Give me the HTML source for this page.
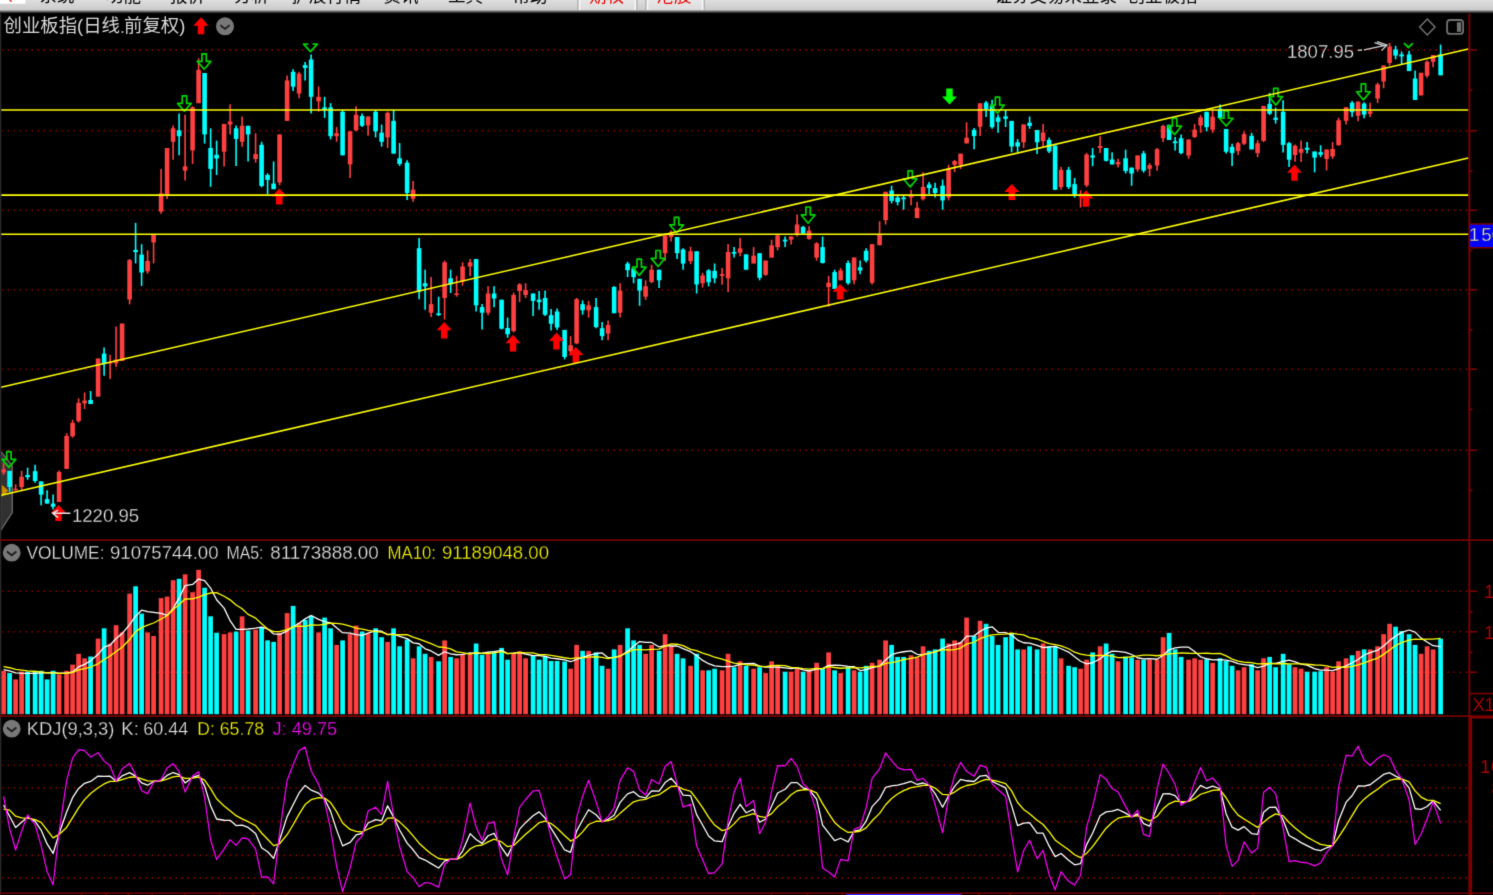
<!DOCTYPE html>
<html><head><meta charset="utf-8"><title>chart</title>
<style>html,body{margin:0;padding:0;background:#000;overflow:hidden}body{width:1493px;height:895px;font-family:"Liberation Sans",sans-serif}svg{display:block}</style>
</head><body><svg width="1493" height="895" viewBox="0 0 1493 895"><defs><linearGradient id="mb" x1="0" y1="0" x2="0" y2="1"><stop offset="0" stop-color="#dedede"/><stop offset="1" stop-color="#cbcbcb"/></linearGradient><linearGradient id="mb2" x1="0" y1="0" x2="0" y2="1"><stop offset="0" stop-color="#c4c4c4"/><stop offset="0.5" stop-color="#585858"/><stop offset="1" stop-color="#000"/></linearGradient><linearGradient id="tb" x1="0" y1="0" x2="0" y2="1"><stop offset="0" stop-color="#e7e7e7"/><stop offset="1" stop-color="#dcdcdc"/></linearGradient><clipPath id="mbclip"><rect x="0" y="0" width="1493" height="10"/></clipPath><filter id="soft" x="0" y="0" width="1493" height="895" filterUnits="userSpaceOnUse" color-interpolation-filters="sRGB"><feConvolveMatrix order="3" kernelMatrix="0.0144 0.0912 0.0144 0.0912 0.5776 0.0912 0.0144 0.0912 0.0144" edgeMode="duplicate" preserveAlpha="true"/></filter></defs><g filter="url(#soft)"><rect x="0" y="0" width="1493" height="895" fill="#000"/>
<line x1="2.2" y1="49.85" x2="1467.3" y2="49.85" stroke="#820000" stroke-width="1.6" stroke-dasharray="1.6 4.4" stroke-dashoffset="0.8"/>
<line x1="2.2" y1="130.75" x2="1467.3" y2="130.75" stroke="#820000" stroke-width="1.6" stroke-dasharray="1.6 4.4" stroke-dashoffset="0.8"/>
<line x1="2.2" y1="210.3" x2="1467.3" y2="210.3" stroke="#820000" stroke-width="1.6" stroke-dasharray="1.6 4.4" stroke-dashoffset="0.8"/>
<line x1="2.2" y1="289.75" x2="1467.3" y2="289.75" stroke="#820000" stroke-width="1.6" stroke-dasharray="1.6 4.4" stroke-dashoffset="0.8"/>
<line x1="2.2" y1="369.2" x2="1467.3" y2="369.2" stroke="#820000" stroke-width="1.6" stroke-dasharray="1.6 4.4" stroke-dashoffset="0.8"/>
<line x1="2.2" y1="450.3" x2="1467.3" y2="450.3" stroke="#820000" stroke-width="1.6" stroke-dasharray="1.6 4.4" stroke-dashoffset="0.8"/>
<line x1="2.2" y1="591.2" x2="1467.3" y2="591.2" stroke="#820000" stroke-width="1.6" stroke-dasharray="1.6 4.4" stroke-dashoffset="0.8"/>
<line x1="2.2" y1="631.8" x2="1467.3" y2="631.8" stroke="#820000" stroke-width="1.6" stroke-dasharray="1.6 4.4" stroke-dashoffset="0.8"/>
<line x1="2.2" y1="672.2" x2="1467.3" y2="672.2" stroke="#820000" stroke-width="1.6" stroke-dasharray="1.6 4.4" stroke-dashoffset="0.8"/>
<line x1="2.2" y1="765.3" x2="1467.3" y2="765.3" stroke="#820000" stroke-width="1.6" stroke-dasharray="1.6 4.4" stroke-dashoffset="0.8"/>
<line x1="2.2" y1="787.82" x2="1467.3" y2="787.82" stroke="#820000" stroke-width="1.6" stroke-dasharray="1.6 4.4" stroke-dashoffset="0.8"/>
<line x1="2.2" y1="821.6" x2="1467.3" y2="821.6" stroke="#820000" stroke-width="1.6" stroke-dasharray="1.6 4.4" stroke-dashoffset="0.8"/>
<line x1="2.2" y1="855.38" x2="1467.3" y2="855.38" stroke="#820000" stroke-width="1.6" stroke-dasharray="1.6 4.4" stroke-dashoffset="0.8"/>
<line x1="2.2" y1="877.9" x2="1467.3" y2="877.9" stroke="#820000" stroke-width="1.6" stroke-dasharray="1.6 4.4" stroke-dashoffset="0.8"/>
<polygon points="0.6,451.2 12.3,465.7 12.3,512.6 0.6,530.5" fill="#808080" fill-opacity="0.38" stroke="#888888" stroke-opacity="0.75" stroke-width="1.3"/>
<polygon points="1.7,484.7 8.4,490.6 1.7,497" fill="#d08a00"/>
<line x1="3.6" y1="463.2" x2="3.6" y2="474.8" stroke="#ff4040" stroke-width="1.6"/>
<rect x="1.3" y="469.3" width="4.6" height="3.3" fill="#ff4040"/>
<line x1="9.6" y1="470.9" x2="9.6" y2="491.8" stroke="#00ffff" stroke-width="1.6"/>
<rect x="7.3" y="470.9" width="4.6" height="16.1" fill="#00ffff"/>
<line x1="15.6" y1="484.3" x2="15.6" y2="490.6" stroke="#ff4040" stroke-width="1.6"/>
<rect x="13.3" y="488.8" width="4.6" height="1.5" fill="#ff4040"/>
<line x1="21.6" y1="470.8" x2="21.6" y2="489.8" stroke="#ff4040" stroke-width="1.6"/>
<rect x="19.3" y="476.8" width="4.6" height="10.3" fill="#ff4040"/>
<line x1="27.6" y1="467.7" x2="27.6" y2="479.8" stroke="#00ffff" stroke-width="1.6"/>
<rect x="25.3" y="475" width="4.6" height="2.2" fill="#00ffff"/>
<line x1="35.1" y1="464.8" x2="35.1" y2="482.8" stroke="#00ffff" stroke-width="1.6"/>
<rect x="32.8" y="471.2" width="4.6" height="9.8" fill="#00ffff"/>
<line x1="41.1" y1="481.4" x2="41.1" y2="505.3" stroke="#00ffff" stroke-width="1.6"/>
<rect x="38.8" y="481.4" width="4.6" height="13.2" fill="#00ffff"/>
<line x1="47.1" y1="490.2" x2="47.1" y2="503.6" stroke="#00ffff" stroke-width="1.6"/>
<rect x="44.8" y="499.1" width="4.6" height="4.5" fill="#00ffff"/>
<line x1="53.1" y1="494.6" x2="53.1" y2="509.5" stroke="#00ffff" stroke-width="1.6"/>
<rect x="50.8" y="503.6" width="4.6" height="3.2" fill="#00ffff"/>
<line x1="59.1" y1="470.5" x2="59.1" y2="502" stroke="#ff4040" stroke-width="1.6"/>
<rect x="56.8" y="472" width="4.6" height="30" fill="#ff4040"/>
<line x1="66.6" y1="433.3" x2="66.6" y2="468.9" stroke="#ff4040" stroke-width="1.6"/>
<rect x="64.3" y="436" width="4.6" height="32.9" fill="#ff4040"/>
<line x1="72.6" y1="419.7" x2="72.6" y2="437.6" stroke="#ff4040" stroke-width="1.6"/>
<rect x="70.3" y="422.9" width="4.6" height="13.4" fill="#ff4040"/>
<line x1="78.6" y1="398.4" x2="78.6" y2="422.6" stroke="#ff4040" stroke-width="1.6"/>
<rect x="76.3" y="402.9" width="4.6" height="18.2" fill="#ff4040"/>
<line x1="84.6" y1="392.5" x2="84.6" y2="409" stroke="#ff4040" stroke-width="1.6"/>
<rect x="82.3" y="400.5" width="4.6" height="2.8" fill="#ff4040"/>
<line x1="90.6" y1="391" x2="90.6" y2="404" stroke="#00ffff" stroke-width="1.6"/>
<rect x="88.3" y="400" width="4.6" height="4" fill="#00ffff"/>
<line x1="98.1" y1="358.5" x2="98.1" y2="396.6" stroke="#ff4040" stroke-width="1.6"/>
<rect x="95.8" y="358.5" width="4.6" height="38.1" fill="#ff4040"/>
<line x1="104.1" y1="347.5" x2="104.1" y2="375.7" stroke="#00ffff" stroke-width="1.6"/>
<rect x="101.8" y="353.6" width="4.6" height="10.6" fill="#00ffff"/>
<line x1="110.1" y1="354.8" x2="110.1" y2="378.9" stroke="#ff4040" stroke-width="1.6"/>
<rect x="107.8" y="362" width="4.6" height="1.5" fill="#ff4040"/>
<line x1="116.1" y1="326.6" x2="116.1" y2="367.1" stroke="#ff4040" stroke-width="1.6"/>
<rect x="113.8" y="359.7" width="4.6" height="3.7" fill="#ff4040"/>
<line x1="122.1" y1="323.6" x2="122.1" y2="361" stroke="#ff4040" stroke-width="1.6"/>
<rect x="119.8" y="323.6" width="4.6" height="37.4" fill="#ff4040"/>
<line x1="129.6" y1="259" x2="129.6" y2="304.4" stroke="#ff4040" stroke-width="1.6"/>
<rect x="127.3" y="260.2" width="4.6" height="39.3" fill="#ff4040"/>
<line x1="135.6" y1="222.9" x2="135.6" y2="263.4" stroke="#00ffff" stroke-width="1.6"/>
<rect x="133.3" y="249.9" width="4.6" height="2.2" fill="#00ffff"/>
<line x1="141.6" y1="244.2" x2="141.6" y2="286" stroke="#00ffff" stroke-width="1.6"/>
<rect x="139.3" y="254.6" width="4.6" height="17.9" fill="#00ffff"/>
<line x1="147.6" y1="250.4" x2="147.6" y2="273.7" stroke="#ff4040" stroke-width="1.6"/>
<rect x="145.3" y="261" width="4.6" height="10.3" fill="#ff4040"/>
<line x1="153.6" y1="235.1" x2="153.6" y2="263.4" stroke="#ff4040" stroke-width="1.6"/>
<rect x="151.3" y="235.1" width="4.6" height="7.3" fill="#ff4040"/>
<line x1="161.1" y1="168.9" x2="161.1" y2="213.8" stroke="#ff4040" stroke-width="1.6"/>
<rect x="158.8" y="193.4" width="4.6" height="18.1" fill="#ff4040"/>
<line x1="167.1" y1="148" x2="167.1" y2="199" stroke="#ff4040" stroke-width="1.6"/>
<rect x="164.8" y="148" width="4.6" height="46.7" fill="#ff4040"/>
<line x1="173.1" y1="125.4" x2="173.1" y2="159.8" stroke="#ff4040" stroke-width="1.6"/>
<rect x="170.8" y="128.3" width="4.6" height="13.5" fill="#ff4040"/>
<line x1="179.1" y1="113.6" x2="179.1" y2="155.3" stroke="#00ffff" stroke-width="1.6"/>
<rect x="176.8" y="130.3" width="4.6" height="5.9" fill="#00ffff"/>
<line x1="185.1" y1="114.8" x2="185.1" y2="180.4" stroke="#ff4040" stroke-width="1.6"/>
<rect x="182.8" y="166.4" width="4.6" height="4.2" fill="#ff4040"/>
<line x1="192.6" y1="106.2" x2="192.6" y2="163.9" stroke="#ff4040" stroke-width="1.6"/>
<rect x="190.3" y="107.4" width="4.6" height="43" fill="#ff4040"/>
<line x1="198.6" y1="58.3" x2="198.6" y2="103.2" stroke="#ff4040" stroke-width="1.6"/>
<rect x="196.3" y="69.8" width="4.6" height="33.4" fill="#ff4040"/>
<line x1="204.6" y1="73" x2="204.6" y2="143.5" stroke="#00ffff" stroke-width="1.6"/>
<rect x="202.3" y="73" width="4.6" height="61.4" fill="#00ffff"/>
<line x1="210.6" y1="128.3" x2="210.6" y2="186.8" stroke="#00ffff" stroke-width="1.6"/>
<rect x="208.3" y="148" width="4.6" height="20.9" fill="#00ffff"/>
<line x1="216.6" y1="140.6" x2="216.6" y2="175" stroke="#00ffff" stroke-width="1.6"/>
<rect x="214.3" y="154.8" width="4.6" height="3.7" fill="#00ffff"/>
<line x1="224.1" y1="123.9" x2="224.1" y2="166.4" stroke="#ff4040" stroke-width="1.6"/>
<rect x="221.8" y="123.9" width="4.6" height="27.8" fill="#ff4040"/>
<line x1="230.1" y1="104.2" x2="230.1" y2="134.4" stroke="#ff4040" stroke-width="1.6"/>
<rect x="227.8" y="121.4" width="4.6" height="3.2" fill="#ff4040"/>
<line x1="236.1" y1="125.4" x2="236.1" y2="165.9" stroke="#00ffff" stroke-width="1.6"/>
<rect x="233.8" y="128.3" width="4.6" height="10.6" fill="#00ffff"/>
<line x1="242.1" y1="116.5" x2="242.1" y2="146.7" stroke="#ff4040" stroke-width="1.6"/>
<rect x="239.8" y="125.8" width="4.6" height="16" fill="#ff4040"/>
<line x1="248.1" y1="125.8" x2="248.1" y2="161.5" stroke="#00ffff" stroke-width="1.6"/>
<rect x="245.8" y="125.8" width="4.6" height="8.6" fill="#00ffff"/>
<line x1="255.6" y1="133.2" x2="255.6" y2="162.7" stroke="#ff4040" stroke-width="1.6"/>
<rect x="253.3" y="154.1" width="4.6" height="4.9" fill="#ff4040"/>
<line x1="261.6" y1="141.8" x2="261.6" y2="187.3" stroke="#00ffff" stroke-width="1.6"/>
<rect x="259.3" y="144.8" width="4.6" height="41.2" fill="#00ffff"/>
<line x1="267.6" y1="173.3" x2="267.6" y2="194.2" stroke="#00ffff" stroke-width="1.6"/>
<rect x="265.3" y="175" width="4.6" height="4.9" fill="#00ffff"/>
<line x1="273.6" y1="161.5" x2="273.6" y2="189.2" stroke="#00ffff" stroke-width="1.6"/>
<rect x="271.3" y="183.6" width="4.6" height="5.6" fill="#00ffff"/>
<line x1="279.6" y1="134.4" x2="279.6" y2="185.3" stroke="#ff4040" stroke-width="1.6"/>
<rect x="277.3" y="134.4" width="4.6" height="48" fill="#ff4040"/>
<line x1="287.1" y1="75.5" x2="287.1" y2="120.9" stroke="#ff4040" stroke-width="1.6"/>
<rect x="284.8" y="80.4" width="4.6" height="40.5" fill="#ff4040"/>
<line x1="293.1" y1="69.3" x2="293.1" y2="90.9" stroke="#00ffff" stroke-width="1.6"/>
<rect x="290.8" y="71.8" width="4.6" height="14.9" fill="#00ffff"/>
<line x1="299.1" y1="71.8" x2="299.1" y2="98.3" stroke="#ff4040" stroke-width="1.6"/>
<rect x="296.8" y="73.7" width="4.6" height="19.9" fill="#ff4040"/>
<line x1="305.1" y1="62" x2="305.1" y2="80.4" stroke="#00ffff" stroke-width="1.6"/>
<rect x="302.8" y="65.1" width="4.6" height="2.9" fill="#00ffff"/>
<line x1="311.1" y1="54.6" x2="311.1" y2="113.6" stroke="#00ffff" stroke-width="1.6"/>
<rect x="308.8" y="59.5" width="4.6" height="37.3" fill="#00ffff"/>
<line x1="318.6" y1="86.5" x2="318.6" y2="111.6" stroke="#ff4040" stroke-width="1.6"/>
<rect x="316.3" y="96.8" width="4.6" height="4.5" fill="#ff4040"/>
<line x1="324.6" y1="96.8" x2="324.6" y2="118" stroke="#00ffff" stroke-width="1.6"/>
<rect x="322.3" y="107.4" width="4.6" height="2.5" fill="#00ffff"/>
<line x1="330.6" y1="103.2" x2="330.6" y2="139.4" stroke="#00ffff" stroke-width="1.6"/>
<rect x="328.3" y="107.4" width="4.6" height="28.8" fill="#00ffff"/>
<line x1="336.6" y1="127.1" x2="336.6" y2="141.8" stroke="#ff4040" stroke-width="1.6"/>
<rect x="334.3" y="133.2" width="4.6" height="3" fill="#ff4040"/>
<line x1="342.6" y1="109.9" x2="342.6" y2="155.3" stroke="#00ffff" stroke-width="1.6"/>
<rect x="340.3" y="111.8" width="4.6" height="43.5" fill="#00ffff"/>
<line x1="350.1" y1="131.3" x2="350.1" y2="178" stroke="#ff4040" stroke-width="1.6"/>
<rect x="347.8" y="131.3" width="4.6" height="33.1" fill="#ff4040"/>
<line x1="356.1" y1="106.2" x2="356.1" y2="131.3" stroke="#ff4040" stroke-width="1.6"/>
<rect x="353.8" y="114.8" width="4.6" height="15.5" fill="#ff4040"/>
<line x1="362.1" y1="113.6" x2="362.1" y2="127" stroke="#00ffff" stroke-width="1.6"/>
<rect x="359.8" y="116" width="4.6" height="9.8" fill="#00ffff"/>
<line x1="368.1" y1="116.5" x2="368.1" y2="135.7" stroke="#ff4040" stroke-width="1.6"/>
<rect x="365.8" y="116.5" width="4.6" height="8.9" fill="#ff4040"/>
<line x1="375.6" y1="109.9" x2="375.6" y2="137.4" stroke="#00ffff" stroke-width="1.6"/>
<rect x="373.3" y="111.8" width="4.6" height="19.5" fill="#00ffff"/>
<line x1="381.6" y1="124.6" x2="381.6" y2="146.7" stroke="#00ffff" stroke-width="1.6"/>
<rect x="379.3" y="132.7" width="4.6" height="9.1" fill="#00ffff"/>
<line x1="387.6" y1="111.6" x2="387.6" y2="148" stroke="#ff4040" stroke-width="1.6"/>
<rect x="385.3" y="112.8" width="4.6" height="24.6" fill="#ff4040"/>
<line x1="393.6" y1="109.9" x2="393.6" y2="153.6" stroke="#00ffff" stroke-width="1.6"/>
<rect x="391.3" y="120.9" width="4.6" height="32.7" fill="#00ffff"/>
<line x1="399.6" y1="143" x2="399.6" y2="165.9" stroke="#00ffff" stroke-width="1.6"/>
<rect x="397.3" y="158.3" width="4.6" height="5.6" fill="#00ffff"/>
<line x1="407.1" y1="160.3" x2="407.1" y2="200" stroke="#00ffff" stroke-width="1.6"/>
<rect x="404.8" y="162.7" width="4.6" height="30.3" fill="#00ffff"/>
<line x1="413.1" y1="181.1" x2="413.1" y2="201.8" stroke="#ff4040" stroke-width="1.6"/>
<rect x="410.8" y="189.7" width="4.6" height="9.1" fill="#ff4040"/>
<line x1="419.1" y1="238.1" x2="419.1" y2="299.2" stroke="#00ffff" stroke-width="1.6"/>
<rect x="416.8" y="248.2" width="4.6" height="43.6" fill="#00ffff"/>
<line x1="425.1" y1="269.7" x2="425.1" y2="309.8" stroke="#00ffff" stroke-width="1.6"/>
<rect x="422.8" y="283.2" width="4.6" height="3.2" fill="#00ffff"/>
<line x1="431.1" y1="277.1" x2="431.1" y2="317.1" stroke="#ff4040" stroke-width="1.6"/>
<rect x="428.8" y="304.1" width="4.6" height="8.6" fill="#ff4040"/>
<line x1="438.6" y1="296.7" x2="438.6" y2="315.9" stroke="#00ffff" stroke-width="1.6"/>
<rect x="436.3" y="313.4" width="4.6" height="1.8" fill="#00ffff"/>
<line x1="444.6" y1="260.6" x2="444.6" y2="319.6" stroke="#ff4040" stroke-width="1.6"/>
<rect x="442.3" y="262.3" width="4.6" height="35.7" fill="#ff4040"/>
<line x1="450.6" y1="269.7" x2="450.6" y2="293" stroke="#00ffff" stroke-width="1.6"/>
<rect x="448.3" y="278.3" width="4.6" height="6.1" fill="#00ffff"/>
<line x1="456.6" y1="275.8" x2="456.6" y2="296.7" stroke="#ff4040" stroke-width="1.6"/>
<rect x="454.3" y="293.5" width="4.6" height="1.5" fill="#ff4040"/>
<line x1="462.6" y1="262.3" x2="462.6" y2="285.7" stroke="#ff4040" stroke-width="1.6"/>
<rect x="460.3" y="266.5" width="4.6" height="15" fill="#ff4040"/>
<line x1="470.1" y1="259.1" x2="470.1" y2="276.3" stroke="#ff4040" stroke-width="1.6"/>
<rect x="467.8" y="262.3" width="4.6" height="4.2" fill="#ff4040"/>
<line x1="476.1" y1="259.1" x2="476.1" y2="311.5" stroke="#00ffff" stroke-width="1.6"/>
<rect x="473.8" y="259.1" width="4.6" height="46.2" fill="#00ffff"/>
<line x1="482.1" y1="304.1" x2="482.1" y2="329.4" stroke="#00ffff" stroke-width="1.6"/>
<rect x="479.8" y="307.1" width="4.6" height="5.6" fill="#00ffff"/>
<line x1="488.1" y1="286.2" x2="488.1" y2="315.2" stroke="#ff4040" stroke-width="1.6"/>
<rect x="485.8" y="293.5" width="4.6" height="19.2" fill="#ff4040"/>
<line x1="494.1" y1="286.2" x2="494.1" y2="307.3" stroke="#00ffff" stroke-width="1.6"/>
<rect x="491.8" y="293.5" width="4.6" height="5" fill="#00ffff"/>
<line x1="501.6" y1="299.7" x2="501.6" y2="329.5" stroke="#00ffff" stroke-width="1.6"/>
<rect x="499.3" y="299.7" width="4.6" height="29" fill="#00ffff"/>
<line x1="507.6" y1="317.6" x2="507.6" y2="337.8" stroke="#00ffff" stroke-width="1.6"/>
<rect x="505.3" y="328" width="4.6" height="6.3" fill="#00ffff"/>
<line x1="513.6" y1="292.6" x2="513.6" y2="332.4" stroke="#ff4040" stroke-width="1.6"/>
<rect x="511.3" y="295" width="4.6" height="36.1" fill="#ff4040"/>
<line x1="519.6" y1="283.2" x2="519.6" y2="302.1" stroke="#ff4040" stroke-width="1.6"/>
<rect x="517.3" y="284.4" width="4.6" height="6.7" fill="#ff4040"/>
<line x1="525.6" y1="283.2" x2="525.6" y2="298" stroke="#ff4040" stroke-width="1.6"/>
<rect x="523.3" y="290.1" width="4.6" height="4.9" fill="#ff4040"/>
<line x1="533.1" y1="293.5" x2="533.1" y2="315.9" stroke="#00ffff" stroke-width="1.6"/>
<rect x="530.8" y="293.5" width="4.6" height="7.4" fill="#00ffff"/>
<line x1="539.1" y1="291.1" x2="539.1" y2="309.8" stroke="#00ffff" stroke-width="1.6"/>
<rect x="536.8" y="299.7" width="4.6" height="2.4" fill="#00ffff"/>
<line x1="545.1" y1="290.6" x2="545.1" y2="315.9" stroke="#00ffff" stroke-width="1.6"/>
<rect x="542.8" y="298" width="4.6" height="16.7" fill="#00ffff"/>
<line x1="551.1" y1="309" x2="551.1" y2="330.4" stroke="#00ffff" stroke-width="1.6"/>
<rect x="548.8" y="315.2" width="4.6" height="8.6" fill="#00ffff"/>
<line x1="557.1" y1="308.5" x2="557.1" y2="329.9" stroke="#00ffff" stroke-width="1.6"/>
<rect x="554.8" y="311.5" width="4.6" height="16" fill="#00ffff"/>
<line x1="564.6" y1="329.9" x2="564.6" y2="359.4" stroke="#00ffff" stroke-width="1.6"/>
<rect x="562.3" y="329.9" width="4.6" height="27.1" fill="#00ffff"/>
<line x1="570.6" y1="336.1" x2="570.6" y2="355.7" stroke="#ff4040" stroke-width="1.6"/>
<rect x="568.3" y="345.2" width="4.6" height="6.1" fill="#ff4040"/>
<line x1="576.6" y1="298" x2="576.6" y2="344.2" stroke="#ff4040" stroke-width="1.6"/>
<rect x="574.3" y="299.2" width="4.6" height="44.2" fill="#ff4040"/>
<line x1="582.6" y1="300.4" x2="582.6" y2="314.7" stroke="#00ffff" stroke-width="1.6"/>
<rect x="580.3" y="304.1" width="4.6" height="6.2" fill="#00ffff"/>
<line x1="588.6" y1="300.9" x2="588.6" y2="317.6" stroke="#ff4040" stroke-width="1.6"/>
<rect x="586.3" y="305.3" width="4.6" height="5" fill="#ff4040"/>
<line x1="596.1" y1="298" x2="596.1" y2="328.2" stroke="#00ffff" stroke-width="1.6"/>
<rect x="593.8" y="307.1" width="4.6" height="19.9" fill="#00ffff"/>
<line x1="602.1" y1="322.1" x2="602.1" y2="340.2" stroke="#00ffff" stroke-width="1.6"/>
<rect x="599.8" y="328.2" width="4.6" height="7.9" fill="#00ffff"/>
<line x1="608.1" y1="320.6" x2="608.1" y2="340.2" stroke="#ff4040" stroke-width="1.6"/>
<rect x="605.8" y="325" width="4.6" height="8.6" fill="#ff4040"/>
<line x1="614.1" y1="286.2" x2="614.1" y2="313.2" stroke="#00ffff" stroke-width="1.6"/>
<rect x="611.8" y="286.9" width="4.6" height="26.3" fill="#00ffff"/>
<line x1="620.1" y1="283.2" x2="620.1" y2="317.6" stroke="#ff4040" stroke-width="1.6"/>
<rect x="617.8" y="290.6" width="4.6" height="22.1" fill="#ff4040"/>
<line x1="627.6" y1="261.8" x2="627.6" y2="277.1" stroke="#00ffff" stroke-width="1.6"/>
<rect x="625.3" y="263.6" width="4.6" height="6.6" fill="#00ffff"/>
<line x1="633.6" y1="267.2" x2="633.6" y2="283.2" stroke="#00ffff" stroke-width="1.6"/>
<rect x="631.3" y="268.5" width="4.6" height="8.6" fill="#00ffff"/>
<line x1="639.6" y1="278.8" x2="639.6" y2="305.8" stroke="#00ffff" stroke-width="1.6"/>
<rect x="637.3" y="278.8" width="4.6" height="11.8" fill="#00ffff"/>
<line x1="645.6" y1="280.3" x2="645.6" y2="299.9" stroke="#ff4040" stroke-width="1.6"/>
<rect x="643.3" y="286.2" width="4.6" height="10.5" fill="#ff4040"/>
<line x1="651.6" y1="264.8" x2="651.6" y2="283.2" stroke="#ff4040" stroke-width="1.6"/>
<rect x="649.3" y="269.7" width="4.6" height="12.3" fill="#ff4040"/>
<line x1="659.1" y1="269.7" x2="659.1" y2="288.1" stroke="#00ffff" stroke-width="1.6"/>
<rect x="656.8" y="269.7" width="4.6" height="10.6" fill="#00ffff"/>
<line x1="665.1" y1="235.3" x2="665.1" y2="261.1" stroke="#ff4040" stroke-width="1.6"/>
<rect x="662.8" y="235.3" width="4.6" height="17.9" fill="#ff4040"/>
<line x1="671.1" y1="230.4" x2="671.1" y2="241.4" stroke="#ff4040" stroke-width="1.6"/>
<rect x="668.8" y="233.6" width="4.6" height="3.4" fill="#ff4040"/>
<line x1="677.1" y1="237" x2="677.1" y2="259.1" stroke="#00ffff" stroke-width="1.6"/>
<rect x="674.8" y="237" width="4.6" height="16.2" fill="#00ffff"/>
<line x1="683.1" y1="248.3" x2="683.1" y2="269.7" stroke="#00ffff" stroke-width="1.6"/>
<rect x="680.8" y="249.5" width="4.6" height="14.1" fill="#00ffff"/>
<line x1="690.6" y1="246.8" x2="690.6" y2="264.1" stroke="#ff4040" stroke-width="1.6"/>
<rect x="688.3" y="251.3" width="4.6" height="9.8" fill="#ff4040"/>
<line x1="696.6" y1="251.3" x2="696.6" y2="293.5" stroke="#00ffff" stroke-width="1.6"/>
<rect x="694.3" y="251.3" width="4.6" height="33.1" fill="#00ffff"/>
<line x1="702.6" y1="272.9" x2="702.6" y2="287.6" stroke="#ff4040" stroke-width="1.6"/>
<rect x="700.3" y="275.5" width="4.6" height="7.7" fill="#ff4040"/>
<line x1="708.6" y1="269.2" x2="708.6" y2="286.4" stroke="#00ffff" stroke-width="1.6"/>
<rect x="706.3" y="270.4" width="4.6" height="11.9" fill="#00ffff"/>
<line x1="714.6" y1="263.5" x2="714.6" y2="283.2" stroke="#00ffff" stroke-width="1.6"/>
<rect x="712.3" y="270.9" width="4.6" height="7.4" fill="#00ffff"/>
<line x1="722.1" y1="268" x2="722.1" y2="284.7" stroke="#ff4040" stroke-width="1.6"/>
<rect x="719.8" y="274.1" width="4.6" height="1.7" fill="#ff4040"/>
<line x1="728.1" y1="243.9" x2="728.1" y2="292" stroke="#ff4040" stroke-width="1.6"/>
<rect x="725.8" y="252" width="4.6" height="26.3" fill="#ff4040"/>
<line x1="734.1" y1="247.1" x2="734.1" y2="257.6" stroke="#00ffff" stroke-width="1.6"/>
<rect x="731.8" y="252" width="4.6" height="1.7" fill="#00ffff"/>
<line x1="740.1" y1="238" x2="740.1" y2="256.2" stroke="#ff4040" stroke-width="1.6"/>
<rect x="737.8" y="248.3" width="4.6" height="4.4" fill="#ff4040"/>
<line x1="746.1" y1="254.4" x2="746.1" y2="269.7" stroke="#00ffff" stroke-width="1.6"/>
<rect x="743.8" y="254.4" width="4.6" height="15.3" fill="#00ffff"/>
<line x1="753.6" y1="247.1" x2="753.6" y2="263.5" stroke="#ff4040" stroke-width="1.6"/>
<rect x="751.3" y="255.7" width="4.6" height="7.8" fill="#ff4040"/>
<line x1="759.6" y1="253.2" x2="759.6" y2="280.3" stroke="#00ffff" stroke-width="1.6"/>
<rect x="757.3" y="253.2" width="4.6" height="24.6" fill="#00ffff"/>
<line x1="765.6" y1="260.6" x2="765.6" y2="275.8" stroke="#ff4040" stroke-width="1.6"/>
<rect x="763.3" y="260.6" width="4.6" height="14.2" fill="#ff4040"/>
<line x1="771.6" y1="239.7" x2="771.6" y2="257.6" stroke="#ff4040" stroke-width="1.6"/>
<rect x="769.3" y="245.4" width="4.6" height="12.2" fill="#ff4040"/>
<line x1="777.6" y1="234.8" x2="777.6" y2="250.3" stroke="#ff4040" stroke-width="1.6"/>
<rect x="775.3" y="235.5" width="4.6" height="11.6" fill="#ff4040"/>
<line x1="785.1" y1="236.5" x2="785.1" y2="247.1" stroke="#00ffff" stroke-width="1.6"/>
<rect x="782.8" y="239.7" width="4.6" height="1.7" fill="#00ffff"/>
<line x1="791.1" y1="236.5" x2="791.1" y2="244.6" stroke="#ff4040" stroke-width="1.6"/>
<rect x="788.8" y="236.5" width="4.6" height="3.2" fill="#ff4040"/>
<line x1="797.1" y1="214.4" x2="797.1" y2="236.5" stroke="#ff4040" stroke-width="1.6"/>
<rect x="794.8" y="224.5" width="4.6" height="10.3" fill="#ff4040"/>
<line x1="803.1" y1="225.7" x2="803.1" y2="233.6" stroke="#00ffff" stroke-width="1.6"/>
<rect x="800.8" y="226.9" width="4.6" height="6.7" fill="#00ffff"/>
<line x1="809.1" y1="226.2" x2="809.1" y2="239.7" stroke="#ff4040" stroke-width="1.6"/>
<rect x="806.8" y="230.6" width="4.6" height="8.4" fill="#ff4040"/>
<line x1="816.6" y1="242.2" x2="816.6" y2="260.6" stroke="#ff4040" stroke-width="1.6"/>
<rect x="814.3" y="243.4" width="4.6" height="14.2" fill="#ff4040"/>
<line x1="822.6" y1="236.5" x2="822.6" y2="263.5" stroke="#00ffff" stroke-width="1.6"/>
<rect x="820.3" y="247.1" width="4.6" height="15.9" fill="#00ffff"/>
<line x1="828.6" y1="275.8" x2="828.6" y2="306.8" stroke="#ff4040" stroke-width="1.6"/>
<rect x="826.3" y="282.7" width="4.6" height="4.4" fill="#ff4040"/>
<line x1="834.6" y1="269.7" x2="834.6" y2="288.9" stroke="#00ffff" stroke-width="1.6"/>
<rect x="832.3" y="272.1" width="4.6" height="16.8" fill="#00ffff"/>
<line x1="840.6" y1="268" x2="840.6" y2="280.3" stroke="#ff4040" stroke-width="1.6"/>
<rect x="838.3" y="270.4" width="4.6" height="9.9" fill="#ff4040"/>
<line x1="848.1" y1="260.6" x2="848.1" y2="284.7" stroke="#00ffff" stroke-width="1.6"/>
<rect x="845.8" y="263" width="4.6" height="20.2" fill="#00ffff"/>
<line x1="854.1" y1="257.5" x2="854.1" y2="284.3" stroke="#ff4040" stroke-width="1.6"/>
<rect x="851.8" y="257.5" width="4.6" height="22.8" fill="#ff4040"/>
<line x1="860.1" y1="260.6" x2="860.1" y2="274.2" stroke="#00ffff" stroke-width="1.6"/>
<rect x="857.8" y="267.3" width="4.6" height="3.2" fill="#00ffff"/>
<line x1="866.1" y1="248.3" x2="866.1" y2="262.4" stroke="#00ffff" stroke-width="1.6"/>
<rect x="863.8" y="250.8" width="4.6" height="9.8" fill="#00ffff"/>
<line x1="872.1" y1="244.2" x2="872.1" y2="284.5" stroke="#ff4040" stroke-width="1.6"/>
<rect x="869.8" y="244.2" width="4.6" height="38.6" fill="#ff4040"/>
<line x1="879.6" y1="221.3" x2="879.6" y2="245.2" stroke="#ff4040" stroke-width="1.6"/>
<rect x="877.3" y="234.3" width="4.6" height="10.9" fill="#ff4040"/>
<line x1="885.6" y1="191.8" x2="885.6" y2="224.5" stroke="#ff4040" stroke-width="1.6"/>
<rect x="883.3" y="191.8" width="4.6" height="28.3" fill="#ff4040"/>
<line x1="891.6" y1="185.7" x2="891.6" y2="203.4" stroke="#00ffff" stroke-width="1.6"/>
<rect x="889.3" y="190.6" width="4.6" height="10.3" fill="#00ffff"/>
<line x1="897.6" y1="195.5" x2="897.6" y2="205.3" stroke="#00ffff" stroke-width="1.6"/>
<rect x="895.3" y="197.5" width="4.6" height="4.6" fill="#00ffff"/>
<line x1="903.6" y1="195.5" x2="903.6" y2="209.8" stroke="#00ffff" stroke-width="1.6"/>
<rect x="901.3" y="197.5" width="4.6" height="1.7" fill="#00ffff"/>
<line x1="911.1" y1="190.1" x2="911.1" y2="205.3" stroke="#ff4040" stroke-width="1.6"/>
<rect x="908.8" y="196" width="4.6" height="1.5" fill="#ff4040"/>
<line x1="917.1" y1="201.7" x2="917.1" y2="218.1" stroke="#ff4040" stroke-width="1.6"/>
<rect x="914.8" y="207.8" width="4.6" height="10.3" fill="#ff4040"/>
<line x1="923.1" y1="172.2" x2="923.1" y2="200.4" stroke="#ff4040" stroke-width="1.6"/>
<rect x="920.8" y="186.9" width="4.6" height="12.3" fill="#ff4040"/>
<line x1="929.1" y1="182" x2="929.1" y2="194.3" stroke="#00ffff" stroke-width="1.6"/>
<rect x="926.8" y="184.5" width="4.6" height="3.6" fill="#00ffff"/>
<line x1="935.1" y1="182.7" x2="935.1" y2="197.5" stroke="#00ffff" stroke-width="1.6"/>
<rect x="932.8" y="188.1" width="4.6" height="4.9" fill="#00ffff"/>
<line x1="942.6" y1="179.5" x2="942.6" y2="209.8" stroke="#00ffff" stroke-width="1.6"/>
<rect x="940.3" y="185.7" width="4.6" height="14.7" fill="#00ffff"/>
<line x1="948.6" y1="164.8" x2="948.6" y2="200.4" stroke="#ff4040" stroke-width="1.6"/>
<rect x="946.3" y="168.5" width="4.6" height="29" fill="#ff4040"/>
<line x1="954.6" y1="159.9" x2="954.6" y2="172.2" stroke="#ff4040" stroke-width="1.6"/>
<rect x="952.3" y="161.1" width="4.6" height="3.7" fill="#ff4040"/>
<line x1="960.6" y1="153.7" x2="960.6" y2="169" stroke="#ff4040" stroke-width="1.6"/>
<rect x="958.3" y="153.7" width="4.6" height="11.1" fill="#ff4040"/>
<line x1="966.6" y1="122.3" x2="966.6" y2="143.4" stroke="#ff4040" stroke-width="1.6"/>
<rect x="964.3" y="137.8" width="4.6" height="5.6" fill="#ff4040"/>
<line x1="974.1" y1="127.9" x2="974.1" y2="149.3" stroke="#00ffff" stroke-width="1.6"/>
<rect x="971.8" y="129.9" width="4.6" height="6.1" fill="#00ffff"/>
<line x1="980.1" y1="103.3" x2="980.1" y2="136" stroke="#ff4040" stroke-width="1.6"/>
<rect x="977.8" y="103.3" width="4.6" height="23.4" fill="#ff4040"/>
<line x1="986.1" y1="100.9" x2="986.1" y2="116.9" stroke="#00ffff" stroke-width="1.6"/>
<rect x="983.8" y="102.6" width="4.6" height="6.4" fill="#00ffff"/>
<line x1="992.1" y1="99.7" x2="992.1" y2="128.7" stroke="#00ffff" stroke-width="1.6"/>
<rect x="989.8" y="105.8" width="4.6" height="21.4" fill="#00ffff"/>
<line x1="998.1" y1="114.4" x2="998.1" y2="132.8" stroke="#00ffff" stroke-width="1.6"/>
<rect x="995.8" y="117.4" width="4.6" height="4.4" fill="#00ffff"/>
<line x1="1005.6" y1="110" x2="1005.6" y2="127" stroke="#00ffff" stroke-width="1.6"/>
<rect x="1003.3" y="116.4" width="4.6" height="2.4" fill="#00ffff"/>
<line x1="1011.6" y1="120.9" x2="1011.6" y2="152.2" stroke="#00ffff" stroke-width="1.6"/>
<rect x="1009.3" y="120.9" width="4.6" height="25.6" fill="#00ffff"/>
<line x1="1017.6" y1="139.1" x2="1017.6" y2="152.2" stroke="#00ffff" stroke-width="1.6"/>
<rect x="1015.3" y="142.3" width="4.6" height="4.2" fill="#00ffff"/>
<line x1="1023.6" y1="124.4" x2="1023.6" y2="148" stroke="#ff4040" stroke-width="1.6"/>
<rect x="1021.3" y="124.4" width="4.6" height="17.9" fill="#ff4040"/>
<line x1="1029.6" y1="116.5" x2="1029.6" y2="128.8" stroke="#00ffff" stroke-width="1.6"/>
<rect x="1027.3" y="122.7" width="4.6" height="3.2" fill="#00ffff"/>
<line x1="1037.1" y1="130" x2="1037.1" y2="153.9" stroke="#00ffff" stroke-width="1.6"/>
<rect x="1034.8" y="130" width="4.6" height="12.3" fill="#00ffff"/>
<line x1="1043.1" y1="123.9" x2="1043.1" y2="146.5" stroke="#ff4040" stroke-width="1.6"/>
<rect x="1040.8" y="132.5" width="4.6" height="8.6" fill="#ff4040"/>
<line x1="1049.1" y1="137.4" x2="1049.1" y2="152.9" stroke="#00ffff" stroke-width="1.6"/>
<rect x="1046.8" y="139.9" width="4.6" height="11.5" fill="#00ffff"/>
<line x1="1055.1" y1="145.5" x2="1055.1" y2="189.8" stroke="#00ffff" stroke-width="1.6"/>
<rect x="1052.8" y="145.5" width="4.6" height="44.3" fill="#00ffff"/>
<line x1="1061.1" y1="166.9" x2="1061.1" y2="189.8" stroke="#ff4040" stroke-width="1.6"/>
<rect x="1058.8" y="169.9" width="4.6" height="17.2" fill="#ff4040"/>
<line x1="1068.6" y1="166.9" x2="1068.6" y2="189" stroke="#00ffff" stroke-width="1.6"/>
<rect x="1066.3" y="169.9" width="4.6" height="17.2" fill="#00ffff"/>
<line x1="1074.6" y1="178" x2="1074.6" y2="197.6" stroke="#00ffff" stroke-width="1.6"/>
<rect x="1072.3" y="184.1" width="4.6" height="10.6" fill="#00ffff"/>
<line x1="1080.6" y1="190.3" x2="1080.6" y2="207.5" stroke="#ff4040" stroke-width="1.6"/>
<rect x="1078.3" y="193.9" width="4.6" height="2.5" fill="#ff4040"/>
<line x1="1086.6" y1="152.9" x2="1086.6" y2="187.1" stroke="#ff4040" stroke-width="1.6"/>
<rect x="1084.3" y="154.6" width="4.6" height="30.7" fill="#ff4040"/>
<line x1="1092.6" y1="148" x2="1092.6" y2="166.2" stroke="#00ffff" stroke-width="1.6"/>
<rect x="1090.3" y="155.4" width="4.6" height="2.2" fill="#00ffff"/>
<line x1="1100.1" y1="136.2" x2="1100.1" y2="152.9" stroke="#ff4040" stroke-width="1.6"/>
<rect x="1097.8" y="146" width="4.6" height="2" fill="#ff4040"/>
<line x1="1106.1" y1="148" x2="1106.1" y2="161.5" stroke="#00ffff" stroke-width="1.6"/>
<rect x="1103.8" y="148" width="4.6" height="12.8" fill="#00ffff"/>
<line x1="1112.1" y1="152.2" x2="1112.1" y2="164.4" stroke="#00ffff" stroke-width="1.6"/>
<rect x="1109.8" y="159.5" width="4.6" height="4.9" fill="#00ffff"/>
<line x1="1118.1" y1="158.8" x2="1118.1" y2="167.6" stroke="#ff4040" stroke-width="1.6"/>
<rect x="1115.8" y="162" width="4.6" height="2.4" fill="#ff4040"/>
<line x1="1125.6" y1="149.7" x2="1125.6" y2="173.5" stroke="#00ffff" stroke-width="1.6"/>
<rect x="1123.3" y="158.3" width="4.6" height="12.8" fill="#00ffff"/>
<line x1="1131.6" y1="167.6" x2="1131.6" y2="185.8" stroke="#00ffff" stroke-width="1.6"/>
<rect x="1129.3" y="167.6" width="4.6" height="5.9" fill="#00ffff"/>
<line x1="1137.6" y1="155.4" x2="1137.6" y2="171.8" stroke="#ff4040" stroke-width="1.6"/>
<rect x="1135.3" y="155.4" width="4.6" height="14" fill="#ff4040"/>
<line x1="1143.6" y1="150.9" x2="1143.6" y2="172.6" stroke="#00ffff" stroke-width="1.6"/>
<rect x="1141.3" y="153.4" width="4.6" height="17.2" fill="#00ffff"/>
<line x1="1149.6" y1="163.2" x2="1149.6" y2="176.3" stroke="#ff4040" stroke-width="1.6"/>
<rect x="1147.3" y="165.2" width="4.6" height="3.6" fill="#ff4040"/>
<line x1="1157.1" y1="148" x2="1157.1" y2="170.7" stroke="#ff4040" stroke-width="1.6"/>
<rect x="1154.8" y="149.2" width="4.6" height="16.3" fill="#ff4040"/>
<line x1="1163.1" y1="124.8" x2="1163.1" y2="142" stroke="#ff4040" stroke-width="1.6"/>
<rect x="1160.8" y="126" width="4.6" height="12.3" fill="#ff4040"/>
<line x1="1169.1" y1="124.8" x2="1169.1" y2="140" stroke="#00ffff" stroke-width="1.6"/>
<rect x="1166.8" y="124.8" width="4.6" height="15.2" fill="#00ffff"/>
<line x1="1175.1" y1="137.1" x2="1175.1" y2="150.6" stroke="#00ffff" stroke-width="1.6"/>
<rect x="1172.8" y="141.3" width="4.6" height="1.9" fill="#00ffff"/>
<line x1="1181.1" y1="134.6" x2="1181.1" y2="154.3" stroke="#00ffff" stroke-width="1.6"/>
<rect x="1178.8" y="138.3" width="4.6" height="14.8" fill="#00ffff"/>
<line x1="1188.6" y1="139.5" x2="1188.6" y2="158.7" stroke="#ff4040" stroke-width="1.6"/>
<rect x="1186.3" y="139.5" width="4.6" height="16" fill="#ff4040"/>
<line x1="1194.6" y1="124.1" x2="1194.6" y2="137.8" stroke="#ff4040" stroke-width="1.6"/>
<rect x="1192.3" y="129.7" width="4.6" height="7.4" fill="#ff4040"/>
<line x1="1200.6" y1="115" x2="1200.6" y2="132.9" stroke="#ff4040" stroke-width="1.6"/>
<rect x="1198.3" y="117.4" width="4.6" height="8.1" fill="#ff4040"/>
<line x1="1206.6" y1="111.8" x2="1206.6" y2="131.4" stroke="#00ffff" stroke-width="1.6"/>
<rect x="1204.3" y="111.8" width="4.6" height="15.4" fill="#00ffff"/>
<line x1="1212.6" y1="109.6" x2="1212.6" y2="132.9" stroke="#ff4040" stroke-width="1.6"/>
<rect x="1210.3" y="116.7" width="4.6" height="13" fill="#ff4040"/>
<line x1="1220.1" y1="104.4" x2="1220.1" y2="118.2" stroke="#00ffff" stroke-width="1.6"/>
<rect x="1217.8" y="108.8" width="4.6" height="9.4" fill="#00ffff"/>
<line x1="1226.1" y1="129" x2="1226.1" y2="153.5" stroke="#00ffff" stroke-width="1.6"/>
<rect x="1223.8" y="129" width="4.6" height="22.8" fill="#00ffff"/>
<line x1="1232.1" y1="143.7" x2="1232.1" y2="166.1" stroke="#00ffff" stroke-width="1.6"/>
<rect x="1229.8" y="146.9" width="4.6" height="6.2" fill="#00ffff"/>
<line x1="1238.1" y1="142" x2="1238.1" y2="155" stroke="#ff4040" stroke-width="1.6"/>
<rect x="1235.8" y="143.2" width="4.6" height="7.9" fill="#ff4040"/>
<line x1="1244.1" y1="131.4" x2="1244.1" y2="144.9" stroke="#ff4040" stroke-width="1.6"/>
<rect x="1241.8" y="134.1" width="4.6" height="9.6" fill="#ff4040"/>
<line x1="1251.6" y1="132.9" x2="1251.6" y2="149.4" stroke="#00ffff" stroke-width="1.6"/>
<rect x="1249.3" y="135.8" width="4.6" height="13.6" fill="#00ffff"/>
<line x1="1257.6" y1="140.3" x2="1257.6" y2="157.2" stroke="#ff4040" stroke-width="1.6"/>
<rect x="1255.3" y="143.2" width="4.6" height="9.9" fill="#ff4040"/>
<line x1="1263.6" y1="105.9" x2="1263.6" y2="142" stroke="#ff4040" stroke-width="1.6"/>
<rect x="1261.3" y="105.9" width="4.6" height="34.9" fill="#ff4040"/>
<line x1="1269.6" y1="92.8" x2="1269.6" y2="115" stroke="#00ffff" stroke-width="1.6"/>
<rect x="1267.3" y="103.9" width="4.6" height="9.8" fill="#00ffff"/>
<line x1="1275.6" y1="107.6" x2="1275.6" y2="123.6" stroke="#00ffff" stroke-width="1.6"/>
<rect x="1273.3" y="117.7" width="4.6" height="2.2" fill="#00ffff"/>
<line x1="1283.1" y1="100.2" x2="1283.1" y2="152.6" stroke="#00ffff" stroke-width="1.6"/>
<rect x="1280.8" y="111.8" width="4.6" height="33.1" fill="#00ffff"/>
<line x1="1289.1" y1="142" x2="1289.1" y2="167.1" stroke="#00ffff" stroke-width="1.6"/>
<rect x="1286.8" y="143.2" width="4.6" height="16.5" fill="#00ffff"/>
<line x1="1295.1" y1="144.4" x2="1295.1" y2="161.7" stroke="#ff4040" stroke-width="1.6"/>
<rect x="1292.8" y="145.7" width="4.6" height="9.3" fill="#ff4040"/>
<line x1="1301.1" y1="140.6" x2="1301.1" y2="162" stroke="#ff4040" stroke-width="1.6"/>
<rect x="1298.8" y="148.9" width="4.6" height="3.8" fill="#ff4040"/>
<line x1="1307.1" y1="142.1" x2="1307.1" y2="153.5" stroke="#00ffff" stroke-width="1.6"/>
<rect x="1304.8" y="147.8" width="4.6" height="2" fill="#00ffff"/>
<line x1="1314.6" y1="151.5" x2="1314.6" y2="172.4" stroke="#00ffff" stroke-width="1.6"/>
<rect x="1312.3" y="151.5" width="4.6" height="6.1" fill="#00ffff"/>
<line x1="1320.6" y1="145.3" x2="1320.6" y2="157.1" stroke="#00ffff" stroke-width="1.6"/>
<rect x="1318.3" y="152.2" width="4.6" height="2.5" fill="#00ffff"/>
<line x1="1326.6" y1="149.5" x2="1326.6" y2="170.4" stroke="#ff4040" stroke-width="1.6"/>
<rect x="1324.3" y="149.5" width="4.6" height="9.4" fill="#ff4040"/>
<line x1="1332.6" y1="142.1" x2="1332.6" y2="158.9" stroke="#ff4040" stroke-width="1.6"/>
<rect x="1330.3" y="149" width="4.6" height="7.4" fill="#ff4040"/>
<line x1="1338.6" y1="117.8" x2="1338.6" y2="145.3" stroke="#ff4040" stroke-width="1.6"/>
<rect x="1336.3" y="120.3" width="4.6" height="25" fill="#ff4040"/>
<line x1="1346.1" y1="107.2" x2="1346.1" y2="124.4" stroke="#ff4040" stroke-width="1.6"/>
<rect x="1343.8" y="107.2" width="4.6" height="13.6" fill="#ff4040"/>
<line x1="1352.1" y1="101.1" x2="1352.1" y2="117.1" stroke="#00ffff" stroke-width="1.6"/>
<rect x="1349.8" y="102.8" width="4.6" height="9.4" fill="#00ffff"/>
<line x1="1358.1" y1="101.6" x2="1358.1" y2="121.3" stroke="#ff4040" stroke-width="1.6"/>
<rect x="1355.8" y="101.6" width="4.6" height="14.2" fill="#ff4040"/>
<line x1="1364.1" y1="102.3" x2="1364.1" y2="118.3" stroke="#00ffff" stroke-width="1.6"/>
<rect x="1361.8" y="103.6" width="4.6" height="11" fill="#00ffff"/>
<line x1="1370.1" y1="102.8" x2="1370.1" y2="117.1" stroke="#ff4040" stroke-width="1.6"/>
<rect x="1367.8" y="111.4" width="4.6" height="2.5" fill="#ff4040"/>
<line x1="1377.6" y1="82.7" x2="1377.6" y2="103.1" stroke="#ff4040" stroke-width="1.6"/>
<rect x="1375.3" y="84.4" width="4.6" height="14.2" fill="#ff4040"/>
<line x1="1383.6" y1="65.5" x2="1383.6" y2="88.3" stroke="#ff4040" stroke-width="1.6"/>
<rect x="1381.3" y="65.5" width="4.6" height="15.9" fill="#ff4040"/>
<line x1="1389.6" y1="42.9" x2="1389.6" y2="65.5" stroke="#ff4040" stroke-width="1.6"/>
<rect x="1387.3" y="46.5" width="4.6" height="16.5" fill="#ff4040"/>
<line x1="1395.6" y1="45.8" x2="1395.6" y2="59.3" stroke="#00ffff" stroke-width="1.6"/>
<rect x="1393.3" y="49.5" width="4.6" height="6.1" fill="#00ffff"/>
<line x1="1401.6" y1="51.5" x2="1401.6" y2="64.7" stroke="#00ffff" stroke-width="1.6"/>
<rect x="1399.3" y="54.4" width="4.6" height="2" fill="#00ffff"/>
<line x1="1409.1" y1="50.7" x2="1409.1" y2="71.1" stroke="#00ffff" stroke-width="1.6"/>
<rect x="1406.8" y="54.4" width="4.6" height="16.7" fill="#00ffff"/>
<line x1="1415.1" y1="70.4" x2="1415.1" y2="99.9" stroke="#00ffff" stroke-width="1.6"/>
<rect x="1412.8" y="78.5" width="4.6" height="21.4" fill="#00ffff"/>
<line x1="1421.1" y1="72.8" x2="1421.1" y2="95.4" stroke="#ff4040" stroke-width="1.6"/>
<rect x="1418.8" y="72.8" width="4.6" height="22.6" fill="#ff4040"/>
<line x1="1427.1" y1="60.6" x2="1427.1" y2="77.8" stroke="#ff4040" stroke-width="1.6"/>
<rect x="1424.8" y="61.8" width="4.6" height="14" fill="#ff4040"/>
<line x1="1433.1" y1="55.1" x2="1433.1" y2="67.2" stroke="#ff4040" stroke-width="1.6"/>
<rect x="1430.8" y="55.1" width="4.6" height="6.7" fill="#ff4040"/>
<line x1="1440.6" y1="44.6" x2="1440.6" y2="75.3" stroke="#00ffff" stroke-width="1.6"/>
<rect x="1438.3" y="54.4" width="4.6" height="20.9" fill="#00ffff"/>
<polygon points="6.7,451.7 11.1,451.7 11.1,459.39 15.75,459.39 8.9,467.4 2.05,459.39 6.7,459.39" fill="none" stroke="#00d400" stroke-width="1.7" stroke-linejoin="round"/>
<polygon points="182.2,95.9 186.6,95.9 186.6,103.35 191.25,103.35 184.4,111.1 177.55,103.35 182.2,103.35" fill="none" stroke="#00d400" stroke-width="1.7" stroke-linejoin="round"/>
<polygon points="201.9,53.8 206.3,53.8 206.3,61.39 210.95,61.39 204.1,69.3 197.25,61.39 201.9,61.39" fill="none" stroke="#00d400" stroke-width="1.7" stroke-linejoin="round"/>
<polygon points="637,259.1 641.4,259.1 641.4,267.09 646.05,267.09 639.2,275.4 632.35,267.09 637,267.09" fill="none" stroke="#00d400" stroke-width="1.7" stroke-linejoin="round"/>
<polygon points="655.9,250.5 660.3,250.5 660.3,258.34 664.95,258.34 658.1,266.5 651.25,258.34 655.9,258.34" fill="none" stroke="#00d400" stroke-width="1.7" stroke-linejoin="round"/>
<polygon points="674.4,217.4 678.8,217.4 678.8,224.95 683.45,224.95 676.6,232.8 669.75,224.95 674.4,224.95" fill="none" stroke="#00d400" stroke-width="1.7" stroke-linejoin="round"/>
<polygon points="805.9,207 810.3,207 810.3,214.94 814.95,214.94 808.1,223.2 801.25,214.94 805.9,214.94" fill="none" stroke="#00d400" stroke-width="1.7" stroke-linejoin="round"/>
<polygon points="908,170.9 912.4,170.9 912.4,178.74 917.05,178.74 910.2,186.9 903.35,178.74 908,178.74" fill="none" stroke="#00d400" stroke-width="1.7" stroke-linejoin="round"/>
<polygon points="995.3,97.2 999.7,97.2 999.7,105.04 1004.35,105.04 997.5,113.2 990.65,105.04 995.3,105.04" fill="none" stroke="#00d400" stroke-width="1.7" stroke-linejoin="round"/>
<polygon points="1172.4,118.1 1176.8,118.1 1176.8,126.18 1181.45,126.18 1174.6,134.6 1167.75,126.18 1172.4,126.18" fill="none" stroke="#00d400" stroke-width="1.7" stroke-linejoin="round"/>
<polygon points="1224,110.8 1228.4,110.8 1228.4,118.25 1233.05,118.25 1226.2,126 1219.35,118.25 1224,118.25" fill="none" stroke="#00d400" stroke-width="1.7" stroke-linejoin="round"/>
<polygon points="1273.6,88.4 1278,88.4 1278,96.58 1282.65,96.58 1275.8,105.1 1268.95,96.58 1273.6,96.58" fill="none" stroke="#00d400" stroke-width="1.7" stroke-linejoin="round"/>
<polygon points="1361.2,83.9 1365.6,83.9 1365.6,91.74 1370.25,91.74 1363.4,99.9 1356.55,91.74 1361.2,91.74" fill="none" stroke="#00d400" stroke-width="1.7" stroke-linejoin="round"/>
<polygon points="946.25,88.6 952.75,88.6 952.75,96.6 957,96.6 949.5,104.6 942,96.6 946.25,96.6" fill="#00ff00"/>
<polygon points="58.5,505 66.1,513 61.75,513 61.75,521 55.25,521 55.25,513 50.9,513" fill="#ff0000"/>
<polygon points="279.3,188.5 286.9,196.5 282.55,196.5 282.55,204.5 276.05,204.5 276.05,196.5 271.7,196.5" fill="#ff0000"/>
<polygon points="444.2,322 451.8,330.25 447.45,330.25 447.45,338.5 440.95,338.5 440.95,330.25 436.6,330.25" fill="#ff0000"/>
<polygon points="513,334.8 520.6,343.15 516.25,343.15 516.25,351.5 509.75,351.5 509.75,343.15 505.4,343.15" fill="#ff0000"/>
<polygon points="556.5,332.4 564.1,341 559.75,341 559.75,349.6 553.25,349.6 553.25,341 548.9,341" fill="#ff0000"/>
<polygon points="575.8,347.1 583.4,355.1 579.05,355.1 579.05,363.1 572.55,363.1 572.55,355.1 568.2,355.1" fill="#ff0000"/>
<polygon points="840.1,283.9 847.7,291.65 843.35,291.65 843.35,299.4 836.85,299.4 836.85,291.65 832.5,291.65" fill="#ff0000"/>
<polygon points="1011.8,184.1 1019.4,192.1 1015.05,192.1 1015.05,200.1 1008.55,200.1 1008.55,192.1 1004.2,192.1" fill="#ff0000"/>
<polygon points="1086,190.3 1093.6,198.5 1089.25,198.5 1089.25,206.7 1082.75,206.7 1082.75,198.5 1078.4,198.5" fill="#ff0000"/>
<polygon points="1294.5,164.8 1302.1,172.8 1297.75,172.8 1297.75,180.8 1291.25,180.8 1291.25,172.8 1286.9,172.8" fill="#ff0000"/>
<path d="M308.25,44.2 L303.6,44.2 L310.45,51.6 L317.3,44.2 L312.65,44.2" fill="none" stroke="#00d400" stroke-width="1.8" stroke-linejoin="round"/>
<path d="M1404,43.1 L1408.4,47.5 L1412.8,43.1" fill="none" stroke="#00d400" stroke-width="1.8" stroke-linejoin="round"/>
<line x1="0" y1="109.9" x2="1468.3" y2="109.9" stroke="#ffff00" stroke-width="1.55"/>
<line x1="0" y1="195.1" x2="1468.3" y2="195.1" stroke="#ffff00" stroke-width="1.55"/>
<line x1="0" y1="234.3" x2="1468.3" y2="234.3" stroke="#ffff00" stroke-width="1.55"/>
<line x1="0" y1="387.6" x2="1468.3" y2="49.1" stroke="#ffff00" stroke-width="1.55"/>
<line x1="0" y1="495.5" x2="1468.3" y2="158.1" stroke="#ffff00" stroke-width="1.55"/>
<rect x="1.25" y="670.8" width="4.7" height="43.4" fill="#ff4040"/>
<rect x="7.25" y="673" width="4.7" height="41.2" fill="#00ffff"/>
<rect x="13.25" y="679.4" width="4.7" height="34.8" fill="#ff4040"/>
<rect x="19.25" y="671.7" width="4.7" height="42.5" fill="#ff4040"/>
<rect x="25.25" y="671.7" width="4.7" height="42.5" fill="#00ffff"/>
<rect x="32.75" y="670.8" width="4.7" height="43.4" fill="#00ffff"/>
<rect x="38.75" y="670.8" width="4.7" height="43.4" fill="#00ffff"/>
<rect x="44.75" y="679.4" width="4.7" height="34.8" fill="#00ffff"/>
<rect x="50.75" y="670.8" width="4.7" height="43.4" fill="#00ffff"/>
<rect x="56.75" y="674.4" width="4.7" height="39.8" fill="#ff4040"/>
<rect x="64.25" y="670.8" width="4.7" height="43.4" fill="#ff4040"/>
<rect x="70.25" y="664.6" width="4.7" height="49.6" fill="#ff4040"/>
<rect x="76.25" y="653.8" width="4.7" height="60.4" fill="#ff4040"/>
<rect x="82.25" y="658.3" width="4.7" height="55.9" fill="#ff4040"/>
<rect x="88.25" y="656.5" width="4.7" height="57.7" fill="#00ffff"/>
<rect x="95.75" y="638.6" width="4.7" height="75.6" fill="#ff4040"/>
<rect x="101.75" y="628.3" width="4.7" height="85.9" fill="#00ffff"/>
<rect x="107.75" y="643.6" width="4.7" height="70.6" fill="#ff4040"/>
<rect x="113.75" y="625.2" width="4.7" height="89" fill="#ff4040"/>
<rect x="119.75" y="632.4" width="4.7" height="81.8" fill="#ff4040"/>
<rect x="127.25" y="593.6" width="4.7" height="120.6" fill="#ff4040"/>
<rect x="133.25" y="586.3" width="4.7" height="127.9" fill="#00ffff"/>
<rect x="139.25" y="613.6" width="4.7" height="100.6" fill="#00ffff"/>
<rect x="145.25" y="632.4" width="4.7" height="81.8" fill="#ff4040"/>
<rect x="151.25" y="636" width="4.7" height="78.2" fill="#ff4040"/>
<rect x="158.75" y="598.1" width="4.7" height="116.1" fill="#ff4040"/>
<rect x="164.75" y="596.6" width="4.7" height="117.6" fill="#ff4040"/>
<rect x="170.75" y="580.2" width="4.7" height="134" fill="#ff4040"/>
<rect x="176.75" y="578.8" width="4.7" height="135.4" fill="#00ffff"/>
<rect x="182.75" y="574.3" width="4.7" height="139.9" fill="#ff4040"/>
<rect x="190.25" y="592.2" width="4.7" height="122" fill="#ff4040"/>
<rect x="196.25" y="569.8" width="4.7" height="144.4" fill="#ff4040"/>
<rect x="202.25" y="587.7" width="4.7" height="126.5" fill="#00ffff"/>
<rect x="208.25" y="616.3" width="4.7" height="97.9" fill="#00ffff"/>
<rect x="214.25" y="632.7" width="4.7" height="81.5" fill="#00ffff"/>
<rect x="221.75" y="634.2" width="4.7" height="80" fill="#ff4040"/>
<rect x="227.75" y="632.4" width="4.7" height="81.8" fill="#ff4040"/>
<rect x="233.75" y="631.5" width="4.7" height="82.7" fill="#00ffff"/>
<rect x="239.75" y="616.3" width="4.7" height="97.9" fill="#ff4040"/>
<rect x="245.75" y="630.6" width="4.7" height="83.6" fill="#00ffff"/>
<rect x="253.25" y="629.7" width="4.7" height="84.5" fill="#ff4040"/>
<rect x="259.25" y="627" width="4.7" height="87.2" fill="#00ffff"/>
<rect x="265.25" y="640.4" width="4.7" height="73.8" fill="#00ffff"/>
<rect x="271.25" y="641.9" width="4.7" height="72.3" fill="#00ffff"/>
<rect x="277.25" y="632.9" width="4.7" height="81.3" fill="#ff4040"/>
<rect x="284.75" y="613.1" width="4.7" height="101.1" fill="#ff4040"/>
<rect x="290.75" y="605.9" width="4.7" height="108.3" fill="#00ffff"/>
<rect x="296.75" y="622.6" width="4.7" height="91.6" fill="#ff4040"/>
<rect x="302.75" y="619.9" width="4.7" height="94.3" fill="#00ffff"/>
<rect x="308.75" y="615.8" width="4.7" height="98.4" fill="#00ffff"/>
<rect x="316.25" y="632.4" width="4.7" height="81.8" fill="#ff4040"/>
<rect x="322.25" y="617.6" width="4.7" height="96.6" fill="#00ffff"/>
<rect x="328.25" y="628.3" width="4.7" height="85.9" fill="#00ffff"/>
<rect x="334.25" y="644.9" width="4.7" height="69.3" fill="#ff4040"/>
<rect x="340.25" y="640.4" width="4.7" height="73.8" fill="#00ffff"/>
<rect x="347.75" y="634.2" width="4.7" height="80" fill="#ff4040"/>
<rect x="353.75" y="625.6" width="4.7" height="88.6" fill="#ff4040"/>
<rect x="359.75" y="631.5" width="4.7" height="82.7" fill="#00ffff"/>
<rect x="365.75" y="633.6" width="4.7" height="80.6" fill="#ff4040"/>
<rect x="373.25" y="628.3" width="4.7" height="85.9" fill="#00ffff"/>
<rect x="379.25" y="637.2" width="4.7" height="77" fill="#00ffff"/>
<rect x="385.25" y="641.9" width="4.7" height="72.3" fill="#ff4040"/>
<rect x="391.25" y="628.3" width="4.7" height="85.9" fill="#00ffff"/>
<rect x="397.25" y="646.3" width="4.7" height="67.9" fill="#00ffff"/>
<rect x="404.75" y="639.5" width="4.7" height="74.7" fill="#00ffff"/>
<rect x="410.75" y="658.3" width="4.7" height="55.9" fill="#ff4040"/>
<rect x="416.75" y="646.3" width="4.7" height="67.9" fill="#00ffff"/>
<rect x="422.75" y="653.8" width="4.7" height="60.4" fill="#00ffff"/>
<rect x="428.75" y="656.9" width="4.7" height="57.3" fill="#ff4040"/>
<rect x="436.25" y="661.3" width="4.7" height="52.9" fill="#00ffff"/>
<rect x="442.25" y="640.4" width="4.7" height="73.8" fill="#ff4040"/>
<rect x="448.25" y="656.9" width="4.7" height="57.3" fill="#00ffff"/>
<rect x="454.25" y="658.3" width="4.7" height="55.9" fill="#ff4040"/>
<rect x="460.25" y="654.7" width="4.7" height="59.5" fill="#ff4040"/>
<rect x="467.75" y="654.2" width="4.7" height="60" fill="#ff4040"/>
<rect x="473.75" y="643.5" width="4.7" height="70.7" fill="#00ffff"/>
<rect x="479.75" y="654.7" width="4.7" height="59.5" fill="#00ffff"/>
<rect x="485.75" y="654.2" width="4.7" height="60" fill="#ff4040"/>
<rect x="491.75" y="651.2" width="4.7" height="63" fill="#00ffff"/>
<rect x="499.25" y="647.9" width="4.7" height="66.3" fill="#00ffff"/>
<rect x="505.25" y="659.7" width="4.7" height="54.5" fill="#00ffff"/>
<rect x="511.25" y="652.9" width="4.7" height="61.3" fill="#ff4040"/>
<rect x="517.25" y="651.2" width="4.7" height="63" fill="#ff4040"/>
<rect x="523.25" y="658.3" width="4.7" height="55.9" fill="#ff4040"/>
<rect x="530.75" y="655.6" width="4.7" height="58.6" fill="#00ffff"/>
<rect x="536.75" y="659.7" width="4.7" height="54.5" fill="#00ffff"/>
<rect x="542.75" y="656.5" width="4.7" height="57.7" fill="#00ffff"/>
<rect x="548.75" y="661" width="4.7" height="53.2" fill="#00ffff"/>
<rect x="554.75" y="661" width="4.7" height="53.2" fill="#00ffff"/>
<rect x="562.25" y="661.5" width="4.7" height="52.7" fill="#00ffff"/>
<rect x="568.25" y="668.7" width="4.7" height="45.5" fill="#ff4040"/>
<rect x="574.25" y="644.9" width="4.7" height="69.3" fill="#ff4040"/>
<rect x="580.25" y="650.8" width="4.7" height="63.4" fill="#00ffff"/>
<rect x="586.25" y="650.8" width="4.7" height="63.4" fill="#ff4040"/>
<rect x="593.75" y="652.4" width="4.7" height="61.8" fill="#00ffff"/>
<rect x="599.75" y="665.8" width="4.7" height="48.4" fill="#00ffff"/>
<rect x="605.75" y="668.7" width="4.7" height="45.5" fill="#ff4040"/>
<rect x="611.75" y="649.4" width="4.7" height="64.8" fill="#00ffff"/>
<rect x="617.75" y="644.9" width="4.7" height="69.3" fill="#ff4040"/>
<rect x="625.25" y="628.3" width="4.7" height="85.9" fill="#00ffff"/>
<rect x="631.25" y="640.4" width="4.7" height="73.8" fill="#00ffff"/>
<rect x="637.25" y="644.9" width="4.7" height="69.3" fill="#00ffff"/>
<rect x="643.25" y="653.8" width="4.7" height="60.4" fill="#ff4040"/>
<rect x="649.25" y="644.9" width="4.7" height="69.3" fill="#ff4040"/>
<rect x="656.75" y="650.8" width="4.7" height="63.4" fill="#00ffff"/>
<rect x="662.75" y="634.2" width="4.7" height="80" fill="#ff4040"/>
<rect x="668.75" y="646.3" width="4.7" height="67.9" fill="#ff4040"/>
<rect x="674.75" y="653.8" width="4.7" height="60.4" fill="#00ffff"/>
<rect x="680.75" y="658.3" width="4.7" height="55.9" fill="#00ffff"/>
<rect x="688.25" y="665.8" width="4.7" height="48.4" fill="#ff4040"/>
<rect x="694.25" y="653.8" width="4.7" height="60.4" fill="#00ffff"/>
<rect x="700.25" y="670.3" width="4.7" height="43.9" fill="#ff4040"/>
<rect x="706.25" y="670.3" width="4.7" height="43.9" fill="#00ffff"/>
<rect x="712.25" y="668.7" width="4.7" height="45.5" fill="#00ffff"/>
<rect x="719.75" y="670.3" width="4.7" height="43.9" fill="#ff4040"/>
<rect x="725.75" y="653.8" width="4.7" height="60.4" fill="#ff4040"/>
<rect x="731.75" y="667.2" width="4.7" height="47" fill="#00ffff"/>
<rect x="737.75" y="661.3" width="4.7" height="52.9" fill="#ff4040"/>
<rect x="743.75" y="665.8" width="4.7" height="48.4" fill="#00ffff"/>
<rect x="751.25" y="668.7" width="4.7" height="45.5" fill="#ff4040"/>
<rect x="757.25" y="667.2" width="4.7" height="47" fill="#00ffff"/>
<rect x="763.25" y="673.1" width="4.7" height="41.1" fill="#ff4040"/>
<rect x="769.25" y="661.3" width="4.7" height="52.9" fill="#ff4040"/>
<rect x="775.25" y="665.8" width="4.7" height="48.4" fill="#ff4040"/>
<rect x="782.75" y="671.7" width="4.7" height="42.5" fill="#00ffff"/>
<rect x="788.75" y="671.7" width="4.7" height="42.5" fill="#ff4040"/>
<rect x="794.75" y="668.7" width="4.7" height="45.5" fill="#ff4040"/>
<rect x="800.75" y="671.7" width="4.7" height="42.5" fill="#00ffff"/>
<rect x="806.75" y="671.2" width="4.7" height="43" fill="#ff4040"/>
<rect x="814.25" y="662.8" width="4.7" height="51.4" fill="#ff4040"/>
<rect x="820.25" y="668.7" width="4.7" height="45.5" fill="#00ffff"/>
<rect x="826.25" y="652.4" width="4.7" height="61.8" fill="#ff4040"/>
<rect x="832.25" y="670.3" width="4.7" height="43.9" fill="#00ffff"/>
<rect x="838.25" y="673.1" width="4.7" height="41.1" fill="#ff4040"/>
<rect x="845.75" y="667.2" width="4.7" height="47" fill="#00ffff"/>
<rect x="851.75" y="670.3" width="4.7" height="43.9" fill="#ff4040"/>
<rect x="857.75" y="671.7" width="4.7" height="42.5" fill="#00ffff"/>
<rect x="863.75" y="665.8" width="4.7" height="48.4" fill="#00ffff"/>
<rect x="869.75" y="662.8" width="4.7" height="51.4" fill="#ff4040"/>
<rect x="877.25" y="659.7" width="4.7" height="54.5" fill="#ff4040"/>
<rect x="883.25" y="640.4" width="4.7" height="73.8" fill="#ff4040"/>
<rect x="889.25" y="644.9" width="4.7" height="69.3" fill="#00ffff"/>
<rect x="895.25" y="656.9" width="4.7" height="57.3" fill="#00ffff"/>
<rect x="901.25" y="656.9" width="4.7" height="57.3" fill="#00ffff"/>
<rect x="908.75" y="655.3" width="4.7" height="58.9" fill="#ff4040"/>
<rect x="914.75" y="657.4" width="4.7" height="56.8" fill="#ff4040"/>
<rect x="920.75" y="646.3" width="4.7" height="67.9" fill="#ff4040"/>
<rect x="926.75" y="650.8" width="4.7" height="63.4" fill="#00ffff"/>
<rect x="932.75" y="649.4" width="4.7" height="64.8" fill="#00ffff"/>
<rect x="940.25" y="638.6" width="4.7" height="75.6" fill="#00ffff"/>
<rect x="946.25" y="643.5" width="4.7" height="70.7" fill="#ff4040"/>
<rect x="952.25" y="640.4" width="4.7" height="73.8" fill="#ff4040"/>
<rect x="958.25" y="641.9" width="4.7" height="72.3" fill="#ff4040"/>
<rect x="964.25" y="617.6" width="4.7" height="96.6" fill="#ff4040"/>
<rect x="971.75" y="636" width="4.7" height="78.2" fill="#00ffff"/>
<rect x="977.75" y="620.8" width="4.7" height="93.4" fill="#ff4040"/>
<rect x="983.75" y="623.8" width="4.7" height="90.4" fill="#00ffff"/>
<rect x="989.75" y="636" width="4.7" height="78.2" fill="#00ffff"/>
<rect x="995.75" y="644.9" width="4.7" height="69.3" fill="#00ffff"/>
<rect x="1003.25" y="637.2" width="4.7" height="77" fill="#00ffff"/>
<rect x="1009.25" y="632.9" width="4.7" height="81.3" fill="#00ffff"/>
<rect x="1015.25" y="649.4" width="4.7" height="64.8" fill="#00ffff"/>
<rect x="1021.25" y="649.4" width="4.7" height="64.8" fill="#ff4040"/>
<rect x="1027.25" y="646.3" width="4.7" height="67.9" fill="#00ffff"/>
<rect x="1034.75" y="649.4" width="4.7" height="64.8" fill="#00ffff"/>
<rect x="1040.75" y="643.5" width="4.7" height="70.7" fill="#ff4040"/>
<rect x="1046.75" y="646.3" width="4.7" height="67.9" fill="#00ffff"/>
<rect x="1052.75" y="646.3" width="4.7" height="67.9" fill="#00ffff"/>
<rect x="1058.75" y="658.3" width="4.7" height="55.9" fill="#ff4040"/>
<rect x="1066.25" y="665.8" width="4.7" height="48.4" fill="#00ffff"/>
<rect x="1072.25" y="667.2" width="4.7" height="47" fill="#00ffff"/>
<rect x="1078.25" y="668.7" width="4.7" height="45.5" fill="#ff4040"/>
<rect x="1084.25" y="659.7" width="4.7" height="54.5" fill="#ff4040"/>
<rect x="1090.25" y="652.4" width="4.7" height="61.8" fill="#00ffff"/>
<rect x="1097.75" y="646.3" width="4.7" height="67.9" fill="#ff4040"/>
<rect x="1103.75" y="643.5" width="4.7" height="70.7" fill="#00ffff"/>
<rect x="1109.75" y="653.8" width="4.7" height="60.4" fill="#00ffff"/>
<rect x="1115.75" y="661.3" width="4.7" height="52.9" fill="#ff4040"/>
<rect x="1123.25" y="656.5" width="4.7" height="57.7" fill="#00ffff"/>
<rect x="1129.25" y="657.4" width="4.7" height="56.8" fill="#00ffff"/>
<rect x="1135.25" y="659.7" width="4.7" height="54.5" fill="#ff4040"/>
<rect x="1141.25" y="659.7" width="4.7" height="54.5" fill="#00ffff"/>
<rect x="1147.25" y="659.7" width="4.7" height="54.5" fill="#ff4040"/>
<rect x="1154.75" y="659.7" width="4.7" height="54.5" fill="#ff4040"/>
<rect x="1160.75" y="637.2" width="4.7" height="77" fill="#ff4040"/>
<rect x="1166.75" y="632.9" width="4.7" height="81.3" fill="#00ffff"/>
<rect x="1172.75" y="649.4" width="4.7" height="64.8" fill="#00ffff"/>
<rect x="1178.75" y="656.9" width="4.7" height="57.3" fill="#00ffff"/>
<rect x="1186.25" y="659.7" width="4.7" height="54.5" fill="#ff4040"/>
<rect x="1192.25" y="658.3" width="4.7" height="55.9" fill="#ff4040"/>
<rect x="1198.25" y="659.7" width="4.7" height="54.5" fill="#ff4040"/>
<rect x="1204.25" y="659.2" width="4.7" height="55" fill="#00ffff"/>
<rect x="1210.25" y="662.8" width="4.7" height="51.4" fill="#ff4040"/>
<rect x="1217.75" y="658.3" width="4.7" height="55.9" fill="#00ffff"/>
<rect x="1223.75" y="661" width="4.7" height="53.2" fill="#00ffff"/>
<rect x="1229.75" y="665.8" width="4.7" height="48.4" fill="#00ffff"/>
<rect x="1235.75" y="670.3" width="4.7" height="43.9" fill="#ff4040"/>
<rect x="1241.75" y="667.2" width="4.7" height="47" fill="#ff4040"/>
<rect x="1249.25" y="664.2" width="4.7" height="50" fill="#00ffff"/>
<rect x="1255.25" y="670.3" width="4.7" height="43.9" fill="#ff4040"/>
<rect x="1261.25" y="658.3" width="4.7" height="55.9" fill="#ff4040"/>
<rect x="1267.25" y="656.9" width="4.7" height="57.3" fill="#00ffff"/>
<rect x="1273.25" y="667.2" width="4.7" height="47" fill="#00ffff"/>
<rect x="1280.75" y="653.8" width="4.7" height="60.4" fill="#00ffff"/>
<rect x="1286.75" y="664.2" width="4.7" height="50" fill="#00ffff"/>
<rect x="1292.75" y="667.2" width="4.7" height="47" fill="#ff4040"/>
<rect x="1298.75" y="668.7" width="4.7" height="45.5" fill="#ff4040"/>
<rect x="1304.75" y="671.7" width="4.7" height="42.5" fill="#00ffff"/>
<rect x="1312.25" y="671.7" width="4.7" height="42.5" fill="#00ffff"/>
<rect x="1318.25" y="671.2" width="4.7" height="43" fill="#00ffff"/>
<rect x="1324.25" y="667.2" width="4.7" height="47" fill="#ff4040"/>
<rect x="1330.25" y="671.7" width="4.7" height="42.5" fill="#ff4040"/>
<rect x="1336.25" y="661.3" width="4.7" height="52.9" fill="#ff4040"/>
<rect x="1343.75" y="658.3" width="4.7" height="55.9" fill="#ff4040"/>
<rect x="1349.75" y="655.3" width="4.7" height="58.9" fill="#00ffff"/>
<rect x="1355.75" y="650.8" width="4.7" height="63.4" fill="#ff4040"/>
<rect x="1361.75" y="649.4" width="4.7" height="64.8" fill="#00ffff"/>
<rect x="1367.75" y="649.4" width="4.7" height="64.8" fill="#ff4040"/>
<rect x="1375.25" y="646.3" width="4.7" height="67.9" fill="#ff4040"/>
<rect x="1381.25" y="634.2" width="4.7" height="80" fill="#ff4040"/>
<rect x="1387.25" y="623.8" width="4.7" height="90.4" fill="#ff4040"/>
<rect x="1393.25" y="626.7" width="4.7" height="87.5" fill="#00ffff"/>
<rect x="1399.25" y="631.1" width="4.7" height="83.1" fill="#00ffff"/>
<rect x="1406.75" y="634.2" width="4.7" height="80" fill="#00ffff"/>
<rect x="1412.75" y="644.9" width="4.7" height="69.3" fill="#00ffff"/>
<rect x="1418.75" y="653.8" width="4.7" height="60.4" fill="#ff4040"/>
<rect x="1424.75" y="646.3" width="4.7" height="67.9" fill="#ff4040"/>
<rect x="1430.75" y="649.4" width="4.7" height="64.8" fill="#ff4040"/>
<rect x="1438.25" y="638.6" width="4.7" height="75.6" fill="#00ffff"/>
<polyline points="3.6,669.72 9.6,670.88 15.6,672.92 21.6,673.22 27.6,673.32 35.1,673.32 41.1,672.88 47.1,672.88 53.1,672.7 59.1,673.24 66.6,673.24 72.6,672 78.6,666.88 84.6,664.38 90.6,660.8 98.1,654.36 104.1,647.1 110.1,645.06 116.1,638.44 122.1,633.62 129.6,624.62 135.6,616.22 141.6,610.22 147.6,611.66 153.6,612.38 161.1,613.28 167.1,615.34 173.1,608.66 179.1,597.94 185.1,585.6 192.6,584.42 198.6,579.06 204.6,580.56 210.6,588.06 216.6,599.74 224.1,608.14 230.1,620.66 236.1,629.42 242.1,629.42 248.1,629 255.6,628.1 261.6,627.02 267.6,628.8 273.6,633.92 279.6,634.38 287.1,631.06 293.1,626.84 299.1,623.28 305.1,618.88 311.1,615.46 318.6,619.32 324.6,621.66 330.6,622.8 336.6,627.8 342.6,632.72 350.1,633.08 356.1,634.68 362.1,635.32 368.1,633.06 375.6,630.64 381.6,631.24 387.6,634.5 393.6,633.86 399.6,636.4 407.1,638.64 413.1,642.86 419.1,643.74 425.1,648.84 431.1,650.96 438.6,655.32 444.6,651.74 450.6,653.86 456.6,654.76 462.6,654.32 470.1,652.9 476.1,653.52 482.1,653.08 488.1,652.26 494.1,651.56 501.6,650.3 507.6,653.54 513.6,653.18 519.6,652.58 525.6,654 533.1,655.54 539.1,655.54 545.1,656.26 551.1,658.22 557.1,658.76 564.6,659.94 570.6,661.74 576.6,659.42 582.6,657.38 588.6,655.34 596.1,653.52 602.1,652.94 608.1,657.7 614.1,657.42 620.1,656.24 627.6,651.42 633.6,646.34 639.6,641.58 645.6,642.46 651.6,642.46 659.1,646.96 665.1,645.72 671.1,646 677.1,646 683.1,648.68 690.6,651.68 696.6,655.6 702.6,660.4 708.6,663.7 714.6,665.78 722.1,666.68 728.1,666.68 734.1,666.06 740.1,664.26 746.1,663.68 753.6,663.36 759.6,666.04 765.6,667.22 771.6,667.22 777.6,667.22 785.1,667.82 791.1,668.72 797.1,667.84 803.1,669.92 809.1,671 816.6,669.22 822.6,668.62 828.6,665.36 834.6,665.08 840.6,665.46 848.1,666.34 854.1,666.66 860.1,670.52 866.1,669.62 872.1,667.56 879.6,666.06 885.6,660.08 891.6,654.72 897.6,652.94 903.6,651.76 911.1,650.88 917.1,654.28 923.1,654.56 929.1,653.34 935.1,651.84 942.6,648.5 948.6,645.72 954.6,644.54 960.6,642.76 966.6,636.4 974.1,635.88 980.1,631.34 986.1,628.02 992.1,626.84 998.1,632.3 1005.6,632.54 1011.6,634.96 1017.6,640.08 1023.6,642.76 1029.6,643.04 1037.1,645.48 1043.1,647.6 1049.1,646.98 1055.1,646.36 1061.1,648.76 1068.6,652.04 1074.6,656.78 1080.6,661.26 1086.6,663.94 1092.6,662.76 1100.1,658.86 1106.1,654.12 1112.1,651.14 1118.1,651.46 1125.6,652.28 1131.6,654.5 1137.6,657.74 1143.6,658.92 1149.6,658.6 1157.1,659.24 1163.1,655.2 1169.1,649.84 1175.1,647.78 1181.1,647.22 1188.6,647.22 1194.6,651.44 1200.6,656.8 1206.6,658.76 1212.6,659.94 1220.1,659.66 1226.1,660.2 1232.1,661.42 1238.1,663.64 1244.1,664.52 1251.6,665.7 1257.6,667.56 1263.6,666.06 1269.6,663.38 1275.6,663.38 1283.1,661.3 1289.1,660.08 1295.1,661.86 1301.1,664.22 1307.1,665.12 1314.6,668.7 1320.6,670.1 1326.6,670.1 1332.6,670.7 1338.6,668.62 1346.1,665.94 1352.1,662.76 1358.1,659.48 1364.1,655.02 1370.1,652.64 1377.6,650.24 1383.6,646.02 1389.6,640.62 1395.6,636.08 1401.6,632.42 1409.1,630 1415.1,632.14 1421.1,638.14 1427.1,642.06 1433.1,645.72 1440.6,646.6" fill="none" stroke="#ffffff" stroke-width="1.3" stroke-linejoin="round"/>
<polyline points="3.6,666.66 9.6,667.74 15.6,669.36 21.6,670.21 27.6,670.96 35.1,671.52 41.1,671.88 47.1,672.9 53.1,672.96 59.1,673.28 66.6,673.28 72.6,672.44 78.6,669.88 84.6,668.54 90.6,667.02 98.1,663.8 104.1,659.55 110.1,655.97 116.1,651.41 122.1,647.21 129.6,639.49 135.6,631.66 141.6,627.64 147.6,625.05 153.6,623 161.1,618.95 167.1,615.78 173.1,609.44 179.1,604.8 185.1,598.99 192.6,598.85 198.6,597.2 204.6,594.61 210.6,593 216.6,592.67 224.1,596.28 230.1,599.86 236.1,604.99 242.1,608.74 248.1,614.37 255.6,618.12 261.6,623.84 267.6,629.11 273.6,631.67 279.6,631.69 287.1,629.58 293.1,626.93 299.1,626.04 305.1,626.4 311.1,624.92 318.6,625.19 324.6,624.25 330.6,623.04 336.6,623.34 342.6,624.09 350.1,626.2 356.1,628.17 362.1,629.06 368.1,630.43 375.6,631.68 381.6,632.16 387.6,634.59 393.6,634.59 399.6,634.73 407.1,634.64 413.1,637.05 419.1,639.12 425.1,641.35 431.1,643.68 438.6,646.98 444.6,647.3 450.6,648.8 456.6,651.8 462.6,652.64 470.1,654.11 476.1,652.63 482.1,653.47 488.1,653.51 494.1,652.94 501.6,651.6 507.6,653.53 513.6,653.13 519.6,652.42 525.6,652.78 533.1,652.92 539.1,654.54 545.1,654.72 551.1,655.4 557.1,656.38 564.6,657.74 570.6,658.64 576.6,657.84 582.6,657.8 588.6,657.05 596.1,656.73 602.1,657.34 608.1,658.56 614.1,657.4 620.1,655.79 627.6,652.47 633.6,649.64 639.6,649.64 645.6,649.94 651.6,649.35 659.1,649.19 665.1,646.03 671.1,643.79 677.1,644.23 683.1,645.57 690.6,649.32 696.6,650.66 702.6,653.2 708.6,654.85 714.6,657.23 722.1,659.18 728.1,661.14 734.1,663.23 740.1,663.98 746.1,664.73 753.6,665.02 759.6,666.36 765.6,666.64 771.6,665.74 777.6,665.45 785.1,665.59 791.1,667.38 797.1,667.53 803.1,668.57 809.1,669.11 816.6,668.52 822.6,668.67 828.6,666.6 834.6,667.5 840.6,668.23 848.1,667.78 854.1,667.64 860.1,667.94 866.1,667.35 872.1,666.51 879.6,666.2 885.6,663.37 891.6,662.62 897.6,661.28 903.6,659.66 911.1,658.47 917.1,657.18 923.1,654.64 929.1,653.14 935.1,651.8 942.6,649.69 948.6,650 954.6,649.55 960.6,648.05 966.6,644.12 974.1,642.19 980.1,638.53 986.1,636.28 992.1,634.8 998.1,634.35 1005.6,634.21 1011.6,633.15 1017.6,634.05 1023.6,634.8 1029.6,637.67 1037.1,639.01 1043.1,641.28 1049.1,643.53 1055.1,644.56 1061.1,645.9 1068.6,648.76 1074.6,652.19 1080.6,654.12 1086.6,655.15 1092.6,655.76 1100.1,655.45 1106.1,655.45 1112.1,656.2 1118.1,657.7 1125.6,657.52 1131.6,656.68 1137.6,655.93 1143.6,655.03 1149.6,655.03 1157.1,655.76 1163.1,654.85 1169.1,653.79 1175.1,653.35 1181.1,652.91 1188.6,653.23 1194.6,653.32 1200.6,653.32 1206.6,653.27 1212.6,653.58 1220.1,653.44 1226.1,655.82 1232.1,659.11 1238.1,661.2 1244.1,662.23 1251.6,662.68 1257.6,663.88 1263.6,663.74 1269.6,663.51 1275.6,663.95 1283.1,663.5 1289.1,663.82 1295.1,663.96 1301.1,663.8 1307.1,664.25 1314.6,665 1320.6,665.09 1326.6,665.98 1332.6,667.46 1338.6,666.87 1346.1,667.32 1352.1,666.43 1358.1,664.79 1364.1,662.86 1370.1,660.63 1377.6,658.09 1383.6,654.39 1389.6,650.05 1395.6,645.55 1401.6,642.53 1409.1,640.12 1415.1,639.08 1421.1,639.38 1427.1,639.07 1433.1,639.07 1440.6,638.3" fill="none" stroke="#ffff00" stroke-width="1.3" stroke-linejoin="round"/>
<polyline points="3.6,804.94 9.6,816.2 15.6,827.46 21.6,822.28 27.6,817.1 35.1,821.37 41.1,830.04 47.1,843.89 53.1,853.47 59.1,833.54 66.6,811.92 72.6,797.72 78.6,788.43 84.6,783.29 90.6,781.41 98.1,776.04 104.1,776.33 110.1,776.17 116.1,781.28 122.1,775.95 129.6,772.68 135.6,776.11 141.6,782.78 147.6,785.19 153.6,781.49 161.1,780.48 167.1,775.42 173.1,772.51 179.1,774.55 185.1,782.96 192.6,777.33 198.6,775.32 204.6,785.91 210.6,805.73 216.6,818.99 224.1,820.25 230.1,820.36 236.1,825.55 242.1,825.18 248.1,827.45 255.6,833.48 261.6,847.7 267.6,851.8 273.6,858.42 279.6,839.97 287.1,816.63 293.1,804.75 299.1,792.92 305.1,785.42 311.1,790.06 318.6,793.15 324.6,799.29 330.6,811.39 336.6,829.86 342.6,845.87 350.1,842.34 356.1,834.97 362.1,833.41 368.1,823.01 375.6,819.72 381.6,820.95 387.6,805.85 393.6,817.11 399.6,830 407.1,843.17 413.1,849.8 419.1,857.7 425.1,860.04 431.1,863.64 438.6,868.05 444.6,861.08 450.6,859.2 456.6,859.29 462.6,851.1 470.1,833.65 476.1,839.53 482.1,843.4 488.1,835.73 494.1,833.29 501.6,847.73 507.6,856.12 513.6,842.97 519.6,829.14 525.6,822.65 533.1,815.7 539.1,811.89 545.1,818.02 551.1,828.35 557.1,837.79 564.6,849.98 570.6,852.29 576.6,831.17 582.6,819.96 588.6,809.76 596.1,814.8 602.1,821.59 608.1,819.33 614.1,815.17 620.1,802.37 627.6,793.84 633.6,791.65 639.6,796.66 645.6,797.89 651.6,790.81 659.1,791.16 665.1,782.54 671.1,778.17 677.1,785.23 683.1,795.11 690.6,795.58 696.6,814.65 702.6,825.03 708.6,835.99 714.6,840.92 722.1,841.71 728.1,826.2 734.1,813.32 740.1,804.28 746.1,812.72 753.6,809.22 759.6,822.24 765.6,818.97 771.6,806.22 777.6,793.04 785.1,789.24 791.1,782.66 797.1,782.63 803.1,787.79 809.1,789.52 816.6,799.17 822.6,825.03 828.6,832.87 834.6,840.61 840.6,838.25 848.1,841.88 854.1,831.07 860.1,829.78 866.1,821.15 872.1,806.65 879.6,798.57 885.6,787.48 891.6,785.85 897.6,785.22 903.6,783.71 911.1,781.48 917.1,784.48 923.1,783 929.1,785.28 935.1,793.55 942.6,807.19 948.6,795.83 954.6,786.43 960.6,779.39 966.6,780.76 974.1,781.49 980.1,776.09 986.1,775.29 992.1,781.33 998.1,784.22 1005.6,787.8 1011.6,805.65 1017.6,825.66 1023.6,823.2 1029.6,822.63 1037.1,833.02 1043.1,833.16 1049.1,845.94 1055.1,856.59 1061.1,853.5 1068.6,860.25 1074.6,864.79 1080.6,863.55 1086.6,844.59 1092.6,833.29 1100.1,815.78 1106.1,811.91 1112.1,811.22 1118.1,809.49 1125.6,813.13 1131.6,816.82 1137.6,813.81 1143.6,823.67 1149.6,826.16 1157.1,807.06 1163.1,793.88 1169.1,793.71 1175.1,795.56 1181.1,802.89 1188.6,801.07 1194.6,793.17 1200.6,785.35 1206.6,788.48 1212.6,786.18 1220.1,788.76 1226.1,813.7 1232.1,827.19 1238.1,830.17 1244.1,826.61 1251.6,833.55 1257.6,834.4 1263.6,812.28 1269.6,807.32 1275.6,807.19 1283.1,819.91 1289.1,835.5 1295.1,838.82 1301.1,842.65 1307.1,845.66 1314.6,849.43 1320.6,850.57 1326.6,847.78 1332.6,845.65 1338.6,820.59 1346.1,802.16 1352.1,795.72 1358.1,785.84 1364.1,786.1 1370.1,784.75 1377.6,778.99 1383.6,774.43 1389.6,772.7 1395.6,776.09 1401.6,778.95 1409.1,787.9 1415.1,808.74 1421.1,809.39 1427.1,806.47 1433.1,800.78 1440.6,810.29" fill="none" stroke="#ffffff" stroke-width="1.3" stroke-linejoin="round"/>
<polyline points="3.6,809.21 9.6,810.11 15.6,816.2 21.6,817.88 27.6,818.22 35.1,819.69 41.1,822.28 47.1,830.04 53.1,837.81 59.1,834.44 66.6,827.46 72.6,817.54 78.6,807.84 84.6,799.65 90.6,793.57 98.1,787.73 104.1,783.93 110.1,781.34 116.1,781.32 122.1,779.53 129.6,777.25 135.6,776.87 141.6,778.84 147.6,780.96 153.6,781.14 161.1,780.92 167.1,779.08 173.1,776.89 179.1,776.11 185.1,778.39 192.6,778.04 198.6,777.13 204.6,780.06 210.6,788.62 216.6,798.74 224.1,805.91 230.1,810.73 236.1,815.67 242.1,818.84 248.1,821.71 255.6,825.63 261.6,832.99 267.6,839.26 273.6,845.65 279.6,843.76 287.1,834.71 293.1,824.73 299.1,814.12 305.1,804.56 311.1,799.72 318.6,797.53 324.6,798.12 330.6,802.54 336.6,811.65 342.6,823.06 350.1,829.49 356.1,831.32 362.1,832.01 368.1,829.01 375.6,825.91 381.6,824.26 387.6,818.12 393.6,817.79 399.6,821.86 407.1,828.96 413.1,835.91 419.1,843.17 425.1,848.8 431.1,853.74 438.6,858.51 444.6,859.37 450.6,859.31 456.6,859.3 462.6,856.57 470.1,848.93 476.1,845.79 482.1,845 488.1,841.91 494.1,839.04 501.6,841.94 507.6,846.66 513.6,845.43 519.6,840 525.6,834.22 533.1,828.04 539.1,822.66 545.1,821.11 551.1,823.53 557.1,828.28 564.6,835.51 570.6,841.1 576.6,837.79 582.6,831.85 588.6,824.49 596.1,821.26 602.1,821.37 608.1,820.69 614.1,818.85 620.1,813.36 627.6,806.85 633.6,801.79 639.6,800.08 645.6,799.35 651.6,796.5 659.1,794.72 665.1,790.66 671.1,786.5 677.1,786.07 683.1,789.09 690.6,791.25 696.6,799.05 702.6,807.71 708.6,817.14 714.6,825.06 722.1,830.61 728.1,829.14 734.1,823.87 740.1,817.34 746.1,815.8 753.6,813.6 759.6,816.48 765.6,817.31 771.6,813.62 777.6,806.76 785.1,800.92 791.1,794.83 797.1,790.76 803.1,789.77 809.1,789.69 816.6,792.85 822.6,803.58 828.6,813.34 834.6,822.43 840.6,827.7 848.1,832.43 854.1,831.98 860.1,831.24 866.1,827.88 872.1,820.8 879.6,813.39 885.6,804.75 891.6,798.45 897.6,794.04 903.6,790.6 911.1,787.56 917.1,786.53 923.1,785.36 929.1,785.33 935.1,788.07 942.6,794.44 948.6,794.91 954.6,792.08 960.6,787.85 966.6,785.49 974.1,784.15 980.1,781.47 986.1,779.41 992.1,780.05 998.1,781.44 1005.6,783.56 1011.6,790.92 1017.6,802.5 1023.6,809.4 1029.6,813.81 1037.1,820.21 1043.1,824.53 1049.1,831.66 1055.1,839.97 1061.1,844.48 1068.6,849.74 1074.6,854.76 1080.6,857.69 1086.6,853.32 1092.6,846.64 1100.1,836.36 1106.1,828.21 1112.1,822.54 1118.1,818.19 1125.6,816.51 1131.6,816.61 1137.6,815.68 1143.6,818.34 1149.6,820.95 1157.1,816.32 1163.1,808.84 1169.1,803.8 1175.1,801.05 1181.1,801.66 1188.6,801.46 1194.6,798.7 1200.6,794.25 1206.6,792.33 1212.6,790.28 1220.1,789.77 1226.1,797.75 1232.1,807.56 1238.1,815.1 1244.1,818.94 1251.6,823.81 1257.6,827.34 1263.6,822.32 1269.6,817.32 1275.6,813.94 1283.1,815.93 1289.1,822.45 1295.1,827.91 1301.1,832.82 1307.1,837.1 1314.6,841.21 1320.6,844.33 1326.6,845.48 1332.6,845.54 1338.6,837.22 1346.1,825.53 1352.1,815.59 1358.1,805.68 1364.1,799.15 1370.1,794.35 1377.6,789.23 1383.6,784.3 1389.6,780.43 1395.6,778.98 1401.6,778.97 1409.1,781.95 1415.1,790.88 1421.1,797.05 1427.1,800.19 1433.1,800.39 1440.6,803.69" fill="none" stroke="#ffff00" stroke-width="1.3" stroke-linejoin="round"/>
<polyline points="3.6,796.38 9.6,828.36 15.6,849.98 21.6,831.06 27.6,814.84 35.1,824.75 41.1,845.58 47.1,871.59 53.1,884.77 59.1,831.73 66.6,780.84 72.6,758.06 78.6,749.61 84.6,750.55 90.6,757.08 98.1,752.66 104.1,761.13 110.1,765.84 116.1,781.2 122.1,768.79 129.6,763.54 135.6,774.59 141.6,790.67 147.6,793.65 153.6,782.21 161.1,779.59 167.1,768.09 173.1,763.74 179.1,771.43 185.1,792.1 192.6,775.9 198.6,771.7 204.6,797.61 210.6,839.97 216.6,859.48 224.1,848.93 230.1,839.64 236.1,845.32 242.1,837.87 248.1,838.93 255.6,849.18 261.6,877.12 267.6,876.89 273.6,883.96 279.6,832.41 287.1,780.47 293.1,764.8 299.1,750.52 305.1,747.14 311.1,770.73 318.6,784.39 324.6,801.63 330.6,829.09 336.6,866.28 342.6,891.51 350.1,868.06 356.1,842.29 362.1,836.19 368.1,811.01 375.6,807.33 381.6,814.33 387.6,781.3 393.6,815.76 399.6,846.29 407.1,871.58 413.1,877.59 419.1,886.76 425.1,882.53 431.1,883.43 438.6,887.12 444.6,864.5 450.6,858.99 456.6,859.25 462.6,840.16 470.1,803.08 476.1,826.99 482.1,840.21 488.1,823.38 494.1,821.8 501.6,859.33 507.6,875.03 513.6,838.04 519.6,807.43 525.6,799.51 533.1,791.01 539.1,790.35 545.1,811.82 551.1,838.01 557.1,856.8 564.6,878.91 570.6,874.66 576.6,817.93 582.6,796.19 588.6,780.31 596.1,801.88 602.1,822.03 608.1,816.61 614.1,807.8 620.1,780.41 627.6,767.82 633.6,771.39 639.6,789.82 645.6,794.97 651.6,779.42 659.1,784.04 665.1,766.3 671.1,761.52 677.1,783.54 683.1,807.17 690.6,804.24 696.6,845.85 702.6,859.66 708.6,873.69 714.6,872.63 722.1,863.9 728.1,820.32 734.1,792.22 740.1,778.16 746.1,806.57 753.6,800.44 759.6,833.76 765.6,822.28 771.6,791.44 777.6,765.61 785.1,765.88 791.1,758.32 797.1,766.35 803.1,783.82 809.1,789.18 816.6,811.82 822.6,867.94 828.6,871.92 834.6,876.96 840.6,859.35 848.1,860.79 854.1,829.26 860.1,826.84 866.1,807.7 872.1,778.33 879.6,768.93 885.6,752.93 891.6,760.64 897.6,767.57 903.6,769.93 911.1,769.33 917.1,780.39 923.1,778.29 929.1,785.17 935.1,804.5 942.6,832.68 948.6,797.68 954.6,775.13 960.6,762.46 966.6,771.32 974.1,776.15 980.1,765.34 986.1,767.05 992.1,783.9 998.1,789.79 1005.6,796.29 1011.6,835.1 1017.6,871.97 1023.6,850.79 1029.6,840.27 1037.1,858.63 1043.1,850.42 1049.1,874.48 1055.1,889.83 1061.1,871.54 1068.6,881.28 1074.6,884.86 1080.6,875.28 1086.6,827.11 1092.6,806.57 1100.1,774.64 1106.1,779.3 1112.1,788.56 1118.1,792.09 1125.6,806.39 1131.6,817.25 1137.6,810.07 1143.6,834.33 1149.6,836.58 1157.1,788.55 1163.1,763.96 1169.1,773.53 1175.1,784.58 1181.1,805.33 1188.6,800.28 1194.6,782.12 1200.6,767.55 1206.6,780.79 1212.6,777.99 1220.1,786.73 1226.1,845.61 1232.1,866.45 1238.1,860.3 1244.1,841.96 1251.6,853.03 1257.6,848.53 1263.6,792.2 1269.6,787.33 1275.6,793.69 1283.1,827.85 1289.1,861.59 1295.1,860.65 1301.1,862.31 1307.1,862.78 1314.6,865.87 1320.6,863.06 1326.6,852.37 1332.6,845.88 1338.6,787.32 1346.1,755.41 1352.1,755.96 1358.1,746.17 1364.1,760 1370.1,765.54 1377.6,758.51 1383.6,754.69 1389.6,757.25 1395.6,770.29 1401.6,778.91 1409.1,799.81 1415.1,844.47 1421.1,834.06 1427.1,819.04 1433.1,801.57 1440.6,823.49" fill="none" stroke="#ff00ff" stroke-width="1.2" stroke-linejoin="round"/>
<rect x="0" y="12" width="1.3" height="883" fill="#2a2a2a"/>
<line x1="1469.3" y1="12" x2="1469.3" y2="895" stroke="#800000" stroke-width="1.9"/>
<line x1="0" y1="540.2" x2="1493" y2="540.2" stroke="#740000" stroke-width="1.7"/>
<line x1="0" y1="716.1" x2="1493" y2="716.1" stroke="#740000" stroke-width="1.8"/>
<line x1="0" y1="893.2" x2="1493" y2="893.2" stroke="#740000" stroke-width="1.5"/>
<rect x="845.9" y="894" width="115.1" height="1.2" fill="#2a2aff"/>
<rect x="80.65" y="893.8" width="1.5" height="1.2" fill="#800000"/>
<rect x="105.15" y="893.8" width="1.5" height="1.2" fill="#800000"/>
<rect x="127.45" y="893.8" width="1.5" height="1.2" fill="#800000"/>
<rect x="151.55" y="893.8" width="1.5" height="1.2" fill="#800000"/>
<rect x="184.15" y="893.8" width="1.5" height="1.2" fill="#800000"/>
<rect x="218.85" y="893.8" width="1.5" height="1.2" fill="#800000"/>
<rect x="252.05" y="893.8" width="1.5" height="1.2" fill="#800000"/>
<rect x="284.55" y="893.8" width="1.5" height="1.2" fill="#800000"/>
<rect x="770.75" y="893.8" width="1.5" height="1.2" fill="#800000"/>
<rect x="806.55" y="893.8" width="1.5" height="1.2" fill="#800000"/>
<rect x="841.75" y="893.8" width="1.5" height="1.2" fill="#800000"/>
<rect x="961.25" y="893.8" width="1.5" height="1.2" fill="#800000"/>
<rect x="977.95" y="893.8" width="1.5" height="1.2" fill="#800000"/>
<rect x="1009.45" y="893.8" width="1.5" height="1.2" fill="#800000"/>
<rect x="1219.25" y="893.8" width="1.5" height="1.2" fill="#800000"/>
<rect x="1252.25" y="893.8" width="1.5" height="1.2" fill="#800000"/>
<rect x="1285.25" y="893.8" width="1.5" height="1.2" fill="#800000"/>
<rect x="1318.25" y="893.8" width="1.5" height="1.2" fill="#800000"/>
<line x1="1469.3" y1="49.85" x2="1476.9" y2="49.85" stroke="#800000" stroke-width="1.6"/>
<line x1="1469.3" y1="90.05" x2="1472.5" y2="90.05" stroke="#800000" stroke-width="1.6"/>
<line x1="1469.3" y1="130.75" x2="1476.9" y2="130.75" stroke="#800000" stroke-width="1.6"/>
<line x1="1469.3" y1="170.95" x2="1472.5" y2="170.95" stroke="#800000" stroke-width="1.6"/>
<line x1="1469.3" y1="210.3" x2="1476.9" y2="210.3" stroke="#800000" stroke-width="1.6"/>
<line x1="1469.3" y1="250.5" x2="1472.5" y2="250.5" stroke="#800000" stroke-width="1.6"/>
<line x1="1469.3" y1="289.75" x2="1476.9" y2="289.75" stroke="#800000" stroke-width="1.6"/>
<line x1="1469.3" y1="329.95" x2="1472.5" y2="329.95" stroke="#800000" stroke-width="1.6"/>
<line x1="1469.3" y1="369.2" x2="1476.9" y2="369.2" stroke="#800000" stroke-width="1.6"/>
<line x1="1469.3" y1="409.4" x2="1472.5" y2="409.4" stroke="#800000" stroke-width="1.6"/>
<line x1="1469.3" y1="450.3" x2="1476.9" y2="450.3" stroke="#800000" stroke-width="1.6"/>
<line x1="1469.3" y1="490.5" x2="1472.5" y2="490.5" stroke="#800000" stroke-width="1.6"/>
<line x1="1469.3" y1="591.2" x2="1476.9" y2="591.2" stroke="#800000" stroke-width="1.6"/>
<line x1="1469.3" y1="631.8" x2="1476.9" y2="631.8" stroke="#800000" stroke-width="1.6"/>
<line x1="1469.3" y1="672.2" x2="1476.9" y2="672.2" stroke="#800000" stroke-width="1.6"/>
<line x1="1469.3" y1="611.8" x2="1472.5" y2="611.8" stroke="#800000" stroke-width="1.6"/>
<line x1="1469.3" y1="652.5" x2="1472.5" y2="652.5" stroke="#800000" stroke-width="1.6"/>
<line x1="1469.3" y1="693.6" x2="1493" y2="693.6" stroke="#800000" stroke-width="1.6"/>
<line x1="1471.1" y1="716" x2="1471.1" y2="895" stroke="#800000" stroke-width="2"/>
<line x1="1469.3" y1="717.6" x2="1493" y2="717.6" stroke="#800000" stroke-width="2"/>
<rect x="1469.3" y="223.3" width="30" height="25.2" fill="#800000"/>
<rect x="1470.1" y="224.7" width="30" height="22.3" fill="#0000ff"/>
<rect x="0" y="0" width="1493" height="10.2" fill="url(#mb)"/>
<rect x="0" y="9.9" width="1493" height="3.7" fill="url(#mb2)"/>
<rect x="0" y="0" width="25.5" height="3.7" fill="#fff"/>
<path d="M9.6,0 L11.6,1.8 M10.2,0.4 L11.2,0" stroke="#f03030" stroke-width="1.3" fill="none"/>
<rect x="577.2" y="0" width="60.5" height="10" fill="#b2b2b2"/>
<rect x="578.7" y="0" width="57.5" height="10" fill="#f8f8f8"/>
<rect x="580.4" y="0" width="54.1" height="10" fill="url(#tb)"/>
<rect x="645.1" y="0" width="59.9" height="10" fill="#b2b2b2"/>
<rect x="646.6" y="0" width="56.9" height="10" fill="#f8f8f8"/>
<rect x="648.3" y="0" width="53.5" height="10" fill="url(#tb)"/>
<g clip-path="url(#mbclip)" font-family="'Liberation Sans','Noto Sans CJK SC',sans-serif" font-size="17.5">
<text x="39.5" y="1.5" fill="#000">系统</text>
<text x="106" y="1.5" fill="#000">功能</text>
<text x="170" y="1.5" fill="#000">报价</text>
<text x="234" y="1.5" fill="#000">分析</text>
<text x="291.5" y="1.5" fill="#000">扩展行情</text>
<text x="383.5" y="1.5" fill="#000">资讯</text>
<text x="448" y="1.5" fill="#000">工具</text>
<text x="512.5" y="1.5" fill="#000">帮助</text>
<text x="589" y="1.5" fill="#f00000">期权</text>
<text x="656.5" y="1.5" fill="#f00000">港股</text>
<text x="994.5" y="1.5" fill="#000">证券交易未登录</text>
<text x="1127.5" y="1.5" fill="#000">创业板指</text>
</g>
<text x="3.5" y="32.3" font-family="'Liberation Sans','Noto Sans CJK SC',sans-serif" font-size="18.4" fill="#d8d8d8">创业板指(日线</text>
<text x="124" y="32.3" font-family="'Liberation Sans','Noto Sans CJK SC',sans-serif" font-size="18.4" fill="#d8d8d8">前复权)</text>
<rect x="121.6" y="31.2" width="1.7" height="1.7" fill="#d0d0d0"/>
<polygon points="201,17.2 208.6,25.7 204.25,25.7 204.25,34.2 197.75,34.2 197.75,25.7 193.4,25.7" fill="#ff0000"/>
<circle cx="225" cy="26.3" r="9" fill="#787878"/>
<polyline points="220.3,25.1 225,28.9 229.7,25.1" fill="none" stroke="#1c1c1c" stroke-width="1.8"/>
<circle cx="11.7" cy="552.7" r="8.9" fill="#787878"/>
<polyline points="7,551.5 11.7,555.3 16.4,551.5" fill="none" stroke="#1c1c1c" stroke-width="1.8"/>
<circle cx="11.7" cy="728.7" r="8.9" fill="#787878"/>
<polyline points="7,727.5 11.7,731.3 16.4,727.5" fill="none" stroke="#1c1c1c" stroke-width="1.8"/>
<polygon points="1427.3,19 1435,27 1427.3,35 1419.6,27" fill="none" stroke="#707070" stroke-width="1.5"/>
<rect x="1447.1" y="20" width="16" height="13.9" rx="3" fill="none" stroke="#707070" stroke-width="1.8"/>
<rect x="1456.9" y="22.2" width="4.3" height="9.6" fill="#707070"/>
<g font-family="'Liberation Sans',sans-serif" font-size="18.8" stroke="#000" stroke-width="0.3" paint-order="fill stroke">
<text x="26.5" y="559.2" fill="#e6e6e6" textLength="78" lengthAdjust="spacingAndGlyphs">VOLUME:</text>
<text x="110" y="559.2" fill="#e6e6e6" textLength="108.5" lengthAdjust="spacingAndGlyphs">91075744.00</text>
<text x="226.5" y="559.2" fill="#e6e6e6" textLength="37" lengthAdjust="spacingAndGlyphs">MA5:</text>
<text x="270.3" y="559.2" fill="#e6e6e6" textLength="108.5" lengthAdjust="spacingAndGlyphs">81173888.00</text>
<text x="387.5" y="559.2" fill="#f6f600" textLength="48.5" lengthAdjust="spacingAndGlyphs">MA10:</text>
<text x="442" y="559.2" fill="#f6f600" textLength="107" lengthAdjust="spacingAndGlyphs">91189048.00</text>
<text x="26.8" y="735" fill="#e6e6e6" textLength="87.5" lengthAdjust="spacingAndGlyphs">KDJ(9,3,3)</text>
<text x="121.3" y="735" fill="#e6e6e6" textLength="17.5" lengthAdjust="spacingAndGlyphs">K:</text>
<text x="143.3" y="735" fill="#e6e6e6" textLength="45" lengthAdjust="spacingAndGlyphs">60.44</text>
<text x="197.3" y="735" fill="#f6f600" textLength="17.5" lengthAdjust="spacingAndGlyphs">D:</text>
<text x="219.7" y="735" fill="#f6f600" textLength="44.5" lengthAdjust="spacingAndGlyphs">65.78</text>
<text x="272.5" y="735" fill="#ff08ff" textLength="14" lengthAdjust="spacingAndGlyphs">J:</text>
<text x="291.7" y="735" fill="#ff08ff" textLength="45.5" lengthAdjust="spacingAndGlyphs">49.75</text>
<text x="1287" y="57.9" fill="#e6e6e6" textLength="67" lengthAdjust="spacingAndGlyphs">1807.95</text>
<text x="72" y="521.7" fill="#e6e6e6" textLength="67" lengthAdjust="spacingAndGlyphs">1220.95</text>
</g>
<path d="M1357.8,50.3 L1362,50 M1364,49.9 L1386.5,45.2 M1377,41.6 L1387,45 L1381.5,50.6 M1374.5,42.6 L1383.8,45.6" fill="none" stroke="#d0d0d0" stroke-width="1.3"/>
<path d="M70.4,513.2 L52.8,513.2 M58.1,510.1 L52.6,513.2 L58.1,517.6" fill="none" stroke="#e6e6e6" stroke-width="1.5"/>
<text y="240.9" font-family="'Liberation Sans',sans-serif" font-size="18.7" fill="#e4e4ff" stroke="#000" stroke-width="0.3" paint-order="fill stroke"><tspan x="1469.1">1</tspan><tspan x="1481.2">5</tspan><tspan x="1491.6">6</tspan></text>
<g font-family="'Liberation Sans',sans-serif" font-size="18.8" fill="#b40000" stroke="#000" stroke-width="0.15" paint-order="fill stroke">
<text x="1484" y="598.3">1</text>
<text x="1484" y="638.7">1</text>
<text y="711.1"><tspan x="1472.5">X</tspan><tspan x="1484.2">1</tspan></text>
<text y="772.5"><tspan x="1480.1">1</tspan><tspan x="1491">0</tspan></text>
<text x="1491.6" y="795">8</text>
<text x="1491.7" y="828.8">5</text>
<text x="1491.8" y="862.58">2</text>
</g></g></svg></body></html>
